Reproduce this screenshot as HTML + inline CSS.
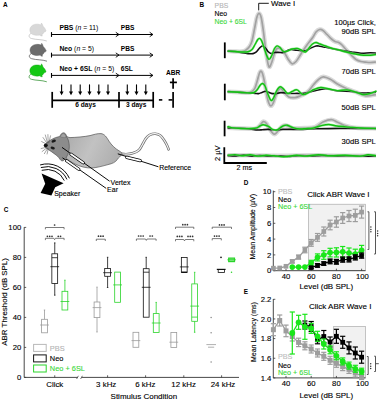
<!DOCTYPE html>
<html><head><meta charset="utf-8"><style>
html,body{margin:0;padding:0;background:#fff;}
svg{display:block;font-family:"Liberation Sans", sans-serif;}

</style></head><body>
<svg width="380" height="400" viewBox="0 0 380 400">
<rect width="380" height="400" fill="#fff"/>
<text x="2.9" y="7.1" font-size="6.4" text-anchor="start" fill="#000" stroke="#000" stroke-width="0.0" font-weight="bold">A</text>
<g transform="translate(29.0,23.6)"><path d="M2.4,9.6 C-0.4,10.8 -0.9,13.8 2.4,14.9 C7,16.2 13,15.7 17.8,17.4" stroke="#bdbdbd" stroke-width="0.75" fill="none"/><path d="M1,7.6 C0.2,4.2 2.8,0.9 7,0.6 C9.4,0.4 10.8,0.8 11.9,1.3 L12.5,-0.6 C13.3,0.4 13.8,1.5 14,2.6 C15.3,3.6 16.4,5.4 17.1,7.3 C16.7,7.9 15.9,8.3 15.1,8.4 C14.7,9.6 13.9,10.6 12.9,11 L13.3,12.4 L11.7,12.3 L11.3,11.3 C9.5,11.8 7.4,11.9 5.4,11.4 C3,10.9 1.5,9.8 1,7.6 Z" fill="#d8d8d8" stroke="#c2c2c2" stroke-width="0.4"/></g>
<g transform="translate(29.2,43.8)"><path d="M2.4,9.6 C-0.4,10.8 -0.9,13.8 2.4,14.9 C7,16.2 13,15.7 17.8,17.4" stroke="#555" stroke-width="0.75" fill="none"/><path d="M1,7.6 C0.2,4.2 2.8,0.9 7,0.6 C9.4,0.4 10.8,0.8 11.9,1.3 L12.5,-0.6 C13.3,0.4 13.8,1.5 14,2.6 C15.3,3.6 16.4,5.4 17.1,7.3 C16.7,7.9 15.9,8.3 15.1,8.4 C14.7,9.6 13.9,10.6 12.9,11 L13.3,12.4 L11.7,12.3 L11.3,11.3 C9.5,11.8 7.4,11.9 5.4,11.4 C3,10.9 1.5,9.8 1,7.6 Z" fill="#6c6c6c" stroke="#555" stroke-width="0.4"/></g>
<g transform="translate(29.0,64.4)"><path d="M2.4,9.6 C-0.4,10.8 -0.9,13.8 2.4,14.9 C7,16.2 13,15.7 17.8,17.4" stroke="#2f8f2f" stroke-width="0.75" fill="none"/><path d="M1,7.6 C0.2,4.2 2.8,0.9 7,0.6 C9.4,0.4 10.8,0.8 11.9,1.3 L12.5,-0.6 C13.3,0.4 13.8,1.5 14,2.6 C15.3,3.6 16.4,5.4 17.1,7.3 C16.7,7.9 15.9,8.3 15.1,8.4 C14.7,9.6 13.9,10.6 12.9,11 L13.3,12.4 L11.7,12.3 L11.3,11.3 C9.5,11.8 7.4,11.9 5.4,11.4 C3,10.9 1.5,9.8 1,7.6 Z" fill="#14c814" stroke="#0fa00f" stroke-width="0.4"/></g>
<line x1="51.5" y1="34.5" x2="152.8" y2="34.5" stroke="#000" stroke-width="1"/>
<line x1="51.5" y1="32.1" x2="51.5" y2="36.9" stroke="#000" stroke-width="1.1"/>
<path d="M115.8,32.3 L119,34.5 L115.8,36.7" stroke="#000" stroke-width="0.9" fill="none"/>
<path d="M149.70000000000002,32.3 L152.9,34.5 L149.70000000000002,36.7" stroke="#000" stroke-width="0.9" fill="none"/>
<text x="59.4" y="30.4" font-size="6.8" fill="#000"><tspan font-weight="bold">PBS</tspan> (<tspan font-style="italic">n</tspan> = 11)</text>
<text x="120.8" y="30.4" font-size="6.6" text-anchor="start" fill="#000" stroke="#000" stroke-width="0.0" font-weight="bold">PBS</text>
<line x1="51.5" y1="55.1" x2="152.8" y2="55.1" stroke="#000" stroke-width="1"/>
<line x1="51.5" y1="52.7" x2="51.5" y2="57.5" stroke="#000" stroke-width="1.1"/>
<path d="M115.8,52.9 L119,55.1 L115.8,57.300000000000004" stroke="#000" stroke-width="0.9" fill="none"/>
<path d="M149.70000000000002,52.9 L152.9,55.1 L149.70000000000002,57.300000000000004" stroke="#000" stroke-width="0.9" fill="none"/>
<text x="59.4" y="51.0" font-size="6.8" fill="#000"><tspan font-weight="bold">Neo</tspan> (<tspan font-style="italic">n</tspan> = 5)</text>
<text x="120.8" y="51.0" font-size="6.6" text-anchor="start" fill="#000" stroke="#000" stroke-width="0.0" font-weight="bold">PBS</text>
<line x1="51.5" y1="75.4" x2="152.8" y2="75.4" stroke="#000" stroke-width="1"/>
<line x1="51.5" y1="73.0" x2="51.5" y2="77.80000000000001" stroke="#000" stroke-width="1.1"/>
<path d="M115.8,73.2 L119,75.4 L115.8,77.60000000000001" stroke="#000" stroke-width="0.9" fill="none"/>
<path d="M149.70000000000002,73.2 L152.9,75.4 L149.70000000000002,77.60000000000001" stroke="#000" stroke-width="0.9" fill="none"/>
<text x="59.4" y="71.30000000000001" font-size="6.8" fill="#000"><tspan font-weight="bold">Neo + 6SL</tspan> (<tspan font-style="italic">n</tspan> = 5)</text>
<text x="120.8" y="71.30000000000001" font-size="6.6" text-anchor="start" fill="#000" stroke="#000" stroke-width="0.0" font-weight="bold">6SL</text>
<line x1="52.2" y1="100.3" x2="153.2" y2="100.3" stroke="#000" stroke-width="1.7"/>
<line x1="52.2" y1="91.9" x2="52.2" y2="107.8" stroke="#000" stroke-width="1.7"/>
<line x1="119" y1="91.9" x2="119" y2="107.8" stroke="#000" stroke-width="1.7"/>
<line x1="153.2" y1="91.9" x2="153.2" y2="107.8" stroke="#000" stroke-width="1.7"/>
<line x1="61.6" y1="84.4" x2="61.6" y2="92.5" stroke="#000" stroke-width="1.1"/>
<path d="M59.6,91.6 L63.6,91.6 L61.6,95.2 Z" stroke="none" stroke-width="1" fill="#000"/>
<line x1="71.0" y1="84.4" x2="71.0" y2="92.5" stroke="#000" stroke-width="1.1"/>
<path d="M69.0,91.6 L73.0,91.6 L71.0,95.2 Z" stroke="none" stroke-width="1" fill="#000"/>
<line x1="80.2" y1="84.4" x2="80.2" y2="92.5" stroke="#000" stroke-width="1.1"/>
<path d="M78.2,91.6 L82.2,91.6 L80.2,95.2 Z" stroke="none" stroke-width="1" fill="#000"/>
<line x1="89.5" y1="84.4" x2="89.5" y2="92.5" stroke="#000" stroke-width="1.1"/>
<path d="M87.5,91.6 L91.5,91.6 L89.5,95.2 Z" stroke="none" stroke-width="1" fill="#000"/>
<line x1="98.8" y1="84.4" x2="98.8" y2="92.5" stroke="#000" stroke-width="1.1"/>
<path d="M96.8,91.6 L100.8,91.6 L98.8,95.2 Z" stroke="none" stroke-width="1" fill="#000"/>
<line x1="108.0" y1="84.4" x2="108.0" y2="92.5" stroke="#000" stroke-width="1.1"/>
<path d="M106.0,91.6 L110.0,91.6 L108.0,95.2 Z" stroke="none" stroke-width="1" fill="#000"/>
<line x1="127.3" y1="84.4" x2="127.3" y2="92.5" stroke="#000" stroke-width="1.1"/>
<path d="M125.3,91.6 L129.3,91.6 L127.3,95.2 Z" stroke="none" stroke-width="1" fill="#000"/>
<line x1="136.5" y1="84.4" x2="136.5" y2="92.5" stroke="#000" stroke-width="1.1"/>
<path d="M134.5,91.6 L138.5,91.6 L136.5,95.2 Z" stroke="none" stroke-width="1" fill="#000"/>
<line x1="145.8" y1="84.4" x2="145.8" y2="92.5" stroke="#000" stroke-width="1.1"/>
<path d="M143.8,91.6 L147.8,91.6 L145.8,95.2 Z" stroke="none" stroke-width="1" fill="#000"/>
<text x="85.6" y="107.3" font-size="6.6" text-anchor="middle" fill="#000" stroke="#000" stroke-width="0.0" font-weight="bold">6 days</text>
<text x="136.2" y="107.3" font-size="6.6" text-anchor="middle" fill="#000" stroke="#000" stroke-width="0.0" font-weight="bold">3 days</text>
<line x1="158.9" y1="99.9" x2="162.3" y2="99.9" stroke="#000" stroke-width="1.6"/>
<line x1="168.6" y1="99.9" x2="172.5" y2="99.9" stroke="#000" stroke-width="1.6"/>
<line x1="173.1" y1="91.9" x2="173.1" y2="107.8" stroke="#000" stroke-width="1.7"/>
<line x1="173.1" y1="78.3" x2="173.1" y2="88.8" stroke="#000" stroke-width="1.7"/>
<line x1="169.9" y1="82.4" x2="176.9" y2="82.4" stroke="#000" stroke-width="1.7"/>
<text x="173.1" y="74.9" font-size="6.6" text-anchor="middle" fill="#000" stroke="#000" stroke-width="0.0" font-weight="bold">ABR</text>
<defs><linearGradient id="bodyg" x1="0" y1="0" x2="1" y2="0.3"><stop offset="0" stop-color="#a9a9a9"/><stop offset="0.55" stop-color="#c2c2c2"/><stop offset="1" stop-color="#b0b0b0"/></linearGradient></defs>
<path d="M120.50,153.60 C121.42,153.70 124.02,154.25 126.00,154.20 C127.98,154.15 130.28,153.95 132.40,153.30 C134.52,152.65 137.00,151.82 138.70,150.30 C140.40,148.78 141.42,146.15 142.60,144.20 C143.78,142.25 144.60,140.15 145.80,138.60 C147.00,137.05 148.22,135.72 149.80,134.90 C151.38,134.08 153.60,133.63 155.30,133.70 C157.00,133.77 158.55,134.25 160.00,135.30 C161.45,136.35 162.82,138.30 164.00,140.00 C165.18,141.70 166.33,143.95 167.10,145.50 C167.87,147.05 168.35,148.67 168.60,149.30" stroke="#6a6a6a" stroke-width="2.6" fill="none" stroke-linecap="round"/>
<path d="M120.50,153.60 C121.42,153.70 124.02,154.25 126.00,154.20 C127.98,154.15 130.28,153.95 132.40,153.30 C134.52,152.65 137.00,151.82 138.70,150.30 C140.40,148.78 141.42,146.15 142.60,144.20 C143.78,142.25 144.60,140.15 145.80,138.60 C147.00,137.05 148.22,135.72 149.80,134.90 C151.38,134.08 153.60,133.63 155.30,133.70 C157.00,133.77 158.55,134.25 160.00,135.30 C161.45,136.35 162.82,138.30 164.00,140.00 C165.18,141.70 166.33,143.95 167.10,145.50 C167.87,147.05 168.35,148.67 168.60,149.30" stroke="#f2f2f2" stroke-width="1.2" fill="none" stroke-linecap="round"/>
<path d="M63.4,133.2 C65.5,135.5 67,137.4 70,137.6 C76,137.4 84,136.8 90,135.6 C94,134.6 97,133.4 101,133.6 C104.5,134 106.5,137 109,141.2 C111.5,145 115,148.5 119,150.8 C121,152 122.5,153 121.8,154.8 C120.8,156.2 118.8,156.8 117.2,159.6 C115.5,162.2 112.5,163.6 108,164.6 C103,166 97,167.6 92,168 C86,168.2 80,166.5 75,164 C71,162 68,160 66,158 Z" stroke="#555" stroke-width="0.7" fill="url(#bodyg)"/>
<path d="M44.3,145.3 C46.5,142.6 50,140 54,138.2 C56.5,137.2 58.5,136.8 60,136.2 C60.6,134.4 61.8,133 63.5,132.8 C65.3,132.9 66.4,134.6 66.8,137.2 C68.2,139 69.2,142.5 69.3,146.5 C69.2,150.5 68.4,154 66.6,156.8 C65.6,158.5 64.5,159.6 63.6,160.6 C62.4,161.2 61,160.8 60.2,159.6 C59.4,158.2 58.2,156.8 56.6,155.4 C53.5,153 50,150.6 46.6,148.4 C45,147.4 43.9,146.4 44.3,145.3 Z" stroke="#4a4a4a" stroke-width="0.6" fill="#8c8c8c"/>
<path d="M60.4,136.8 C60.9,135 62,133.8 63.4,133.6 C64.9,133.8 65.8,135.3 66.0,137.4 C64.2,137.8 62.2,137.6 60.4,136.8 Z" stroke="#5a5a5a" stroke-width="0.35" fill="#a2a2a2"/>
<ellipse cx="53.7" cy="141.1" rx="2.3" ry="1.35" fill="#1a1a1a" transform="rotate(-22 53.7 141.1)"/>
<ellipse cx="52.7" cy="148.1" rx="2.2" ry="1.3" fill="#1a1a1a" transform="rotate(18 52.7 148.1)"/>
<circle cx="45.8" cy="145.3" r="1.9" fill="#111"/>
<line x1="47.6" y1="143.2" x2="45.2" y2="134.6" stroke="#4a4a4a" stroke-width="0.5"/>
<line x1="48.2" y1="143.0" x2="47.9" y2="134.2" stroke="#4a4a4a" stroke-width="0.5"/>
<line x1="48.8" y1="143.2" x2="50.6" y2="135.4" stroke="#4a4a4a" stroke-width="0.5"/>
<line x1="47.2" y1="143.6" x2="42.8" y2="137.2" stroke="#4a4a4a" stroke-width="0.5"/>
<line x1="46.8" y1="144.2" x2="41.3" y2="141.4" stroke="#4a4a4a" stroke-width="0.5"/>
<line x1="46.8" y1="147.2" x2="40.8" y2="148.6" stroke="#4a4a4a" stroke-width="0.5"/>
<line x1="47.2" y1="147.6" x2="41.8" y2="151.8" stroke="#4a4a4a" stroke-width="0.5"/>
<line x1="47.8" y1="148.0" x2="44.2" y2="154.0" stroke="#4a4a4a" stroke-width="0.5"/>
<line x1="48.4" y1="148.2" x2="47.0" y2="154.4" stroke="#4a4a4a" stroke-width="0.5"/>
<line x1="62.0" y1="147.4" x2="109.6" y2="181.2" stroke="#000" stroke-width="0.95"/>
<line x1="71.0" y1="154.2" x2="83.2" y2="162.8" stroke="#000" stroke-width="3.2" stroke-linecap="round"/>
<line x1="71.0" y1="154.2" x2="83.2" y2="162.8" stroke="#fff" stroke-width="1.7" stroke-linecap="round"/>
<line x1="62.5" y1="157.8" x2="106.2" y2="188.4" stroke="#000" stroke-width="0.95"/>
<line x1="66.6" y1="160.8" x2="78.8" y2="169.3" stroke="#000" stroke-width="3.2" stroke-linecap="round"/>
<line x1="66.6" y1="160.8" x2="78.8" y2="169.3" stroke="#fff" stroke-width="1.7" stroke-linecap="round"/>
<line x1="117.8" y1="153.8" x2="158.4" y2="166.8" stroke="#000" stroke-width="0.95"/>
<line x1="126.8" y1="157.4" x2="140.2" y2="160.6" stroke="#000" stroke-width="3.2" stroke-linecap="round"/>
<line x1="126.8" y1="157.4" x2="140.2" y2="160.6" stroke="#fff" stroke-width="1.7" stroke-linecap="round"/>
<text x="110.6" y="184.6" font-size="7" text-anchor="start" fill="#000" stroke="#000" stroke-width="0.12">Vertex</text>
<text x="107.1" y="192.4" font-size="7" text-anchor="start" fill="#000" stroke="#000" stroke-width="0.12">Ear</text>
<text x="159.3" y="169.7" font-size="6.9" text-anchor="start" fill="#000" stroke="#000" stroke-width="0.12">Reference</text>
<path d="M41.6,173.6 L63.6,183.2 L55.2,187.2 L51.4,195.6 L40.6,193.0 L45.2,183.8 Z" stroke="none" stroke-width="1" fill="#000"/>
<path d="M41.73,170.32 A18.7,18.7 0 0 1 64.28,180.59" stroke="#000" stroke-width="0.95" fill="none"/>
<path d="M40.88,167.54 A21.6,21.6 0 0 1 66.93,179.41" stroke="#000" stroke-width="0.95" fill="none"/>
<path d="M40.10,164.96 A24.3,24.3 0 0 1 69.40,178.32" stroke="#000" stroke-width="0.95" fill="none"/>
<text x="54.2" y="196.3" font-size="7" text-anchor="start" fill="#000" stroke="#000" stroke-width="0.12">Speaker</text>
<text x="199.6" y="6.8" font-size="6.4" text-anchor="start" fill="#000" stroke="#000" stroke-width="0.0" font-weight="bold">B</text>
<text x="214.6" y="8.3" font-size="6.8" text-anchor="start" fill="#b4b4b4" stroke="#b4b4b4" stroke-width="0.12">PBS</text>
<text x="214.6" y="16.0" font-size="6.8" text-anchor="start" fill="#000" stroke="#000" stroke-width="0.12">Neo</text>
<text x="214.6" y="23.8" font-size="6.8" text-anchor="start" fill="#3ad83a" stroke="#3ad83a" stroke-width="0.12">Neo + 6SL</text>
<path d="M258.7,10.4 L258.7,3.3 L268.8,3.3" stroke="#000" stroke-width="0.9" fill="none"/>
<text x="271.0" y="6.4" font-size="7.9" text-anchor="start" fill="#000" stroke="#000" stroke-width="0.12">Wave I</text>
<text x="375.8" y="24.7" font-size="7.6" text-anchor="end" fill="#000" stroke="#000" stroke-width="0.12">100µs Click,</text>
<text x="375.8" y="33.7" font-size="7.6" text-anchor="end" fill="#000" stroke="#000" stroke-width="0.12">90dB SPL</text>
<text x="375.8" y="73.7" font-size="7.6" text-anchor="end" fill="#000" stroke="#000" stroke-width="0.12">70dB SPL</text>
<text x="375.8" y="110.0" font-size="7.6" text-anchor="end" fill="#000" stroke="#000" stroke-width="0.12">50dB SPL</text>
<text x="375.8" y="144.3" font-size="7.6" text-anchor="end" fill="#000" stroke="#000" stroke-width="0.12">30dB SPL</text>
<path d="M227.60,51.10 C228.83,51.17 232.60,51.43 235.00,51.50 C237.40,51.57 240.17,51.75 242.00,51.50 C243.83,51.25 244.75,50.83 246.00,50.00 C247.25,49.17 248.50,48.00 249.50,46.50 C250.50,45.00 251.17,43.92 252.00,41.00 C252.83,38.08 253.70,32.92 254.50,29.00 C255.30,25.08 256.05,20.10 256.80,17.50 C257.55,14.90 258.27,13.40 259.00,13.40 C259.73,13.40 260.45,14.40 261.20,17.50 C261.95,20.60 262.70,26.25 263.50,32.00 C264.30,37.75 265.12,46.25 266.00,52.00 C266.88,57.75 267.88,64.67 268.80,66.50 C269.72,68.33 270.55,65.25 271.50,63.00 C272.45,60.75 273.58,55.42 274.50,53.00 C275.42,50.58 276.08,49.25 277.00,48.50 C277.92,47.75 278.83,47.92 280.00,48.50 C281.17,49.08 282.67,50.25 284.00,52.00 C285.33,53.75 286.67,57.03 288.00,59.00 C289.33,60.97 290.67,63.38 292.00,63.80 C293.33,64.22 294.67,62.88 296.00,61.50 C297.33,60.12 298.83,57.28 300.00,55.50 C301.17,53.72 301.83,52.55 303.00,50.80 C304.17,49.05 305.42,47.17 307.00,45.00 C308.58,42.83 311.00,39.97 312.50,37.80 C314.00,35.63 314.82,33.38 316.00,32.00 C317.18,30.62 318.43,29.75 319.60,29.50 C320.77,29.25 321.77,29.67 323.00,30.50 C324.23,31.33 325.58,33.08 327.00,34.50 C328.42,35.92 330.17,37.83 331.50,39.00 C332.83,40.17 333.82,40.92 335.00,41.50 C336.18,42.08 337.43,41.92 338.60,42.50 C339.77,43.08 340.77,43.83 342.00,45.00 C343.23,46.17 344.40,47.75 346.00,49.50 C347.60,51.25 349.93,53.83 351.60,55.50 C353.27,57.17 354.43,58.50 356.00,59.50 C357.57,60.50 359.33,61.05 361.00,61.50 C362.67,61.95 364.42,62.03 366.00,62.20 C367.58,62.37 368.83,62.53 370.50,62.50 C372.17,62.47 375.08,62.08 376.00,62.00" stroke="#dadada" stroke-width="4.4" fill="none" stroke-linejoin="round"/>
<path d="M227.60,51.10 C228.83,51.17 232.60,51.43 235.00,51.50 C237.40,51.57 240.17,51.75 242.00,51.50 C243.83,51.25 244.75,50.83 246.00,50.00 C247.25,49.17 248.50,48.00 249.50,46.50 C250.50,45.00 251.17,43.92 252.00,41.00 C252.83,38.08 253.70,32.92 254.50,29.00 C255.30,25.08 256.05,20.10 256.80,17.50 C257.55,14.90 258.27,13.40 259.00,13.40 C259.73,13.40 260.45,14.40 261.20,17.50 C261.95,20.60 262.70,26.25 263.50,32.00 C264.30,37.75 265.12,46.25 266.00,52.00 C266.88,57.75 267.88,64.67 268.80,66.50 C269.72,68.33 270.55,65.25 271.50,63.00 C272.45,60.75 273.58,55.42 274.50,53.00 C275.42,50.58 276.08,49.25 277.00,48.50 C277.92,47.75 278.83,47.92 280.00,48.50 C281.17,49.08 282.67,50.25 284.00,52.00 C285.33,53.75 286.67,57.03 288.00,59.00 C289.33,60.97 290.67,63.38 292.00,63.80 C293.33,64.22 294.67,62.88 296.00,61.50 C297.33,60.12 298.83,57.28 300.00,55.50 C301.17,53.72 301.83,52.55 303.00,50.80 C304.17,49.05 305.42,47.17 307.00,45.00 C308.58,42.83 311.00,39.97 312.50,37.80 C314.00,35.63 314.82,33.38 316.00,32.00 C317.18,30.62 318.43,29.75 319.60,29.50 C320.77,29.25 321.77,29.67 323.00,30.50 C324.23,31.33 325.58,33.08 327.00,34.50 C328.42,35.92 330.17,37.83 331.50,39.00 C332.83,40.17 333.82,40.92 335.00,41.50 C336.18,42.08 337.43,41.92 338.60,42.50 C339.77,43.08 340.77,43.83 342.00,45.00 C343.23,46.17 344.40,47.75 346.00,49.50 C347.60,51.25 349.93,53.83 351.60,55.50 C353.27,57.17 354.43,58.50 356.00,59.50 C357.57,60.50 359.33,61.05 361.00,61.50 C362.67,61.95 364.42,62.03 366.00,62.20 C367.58,62.37 368.83,62.53 370.50,62.50 C372.17,62.47 375.08,62.08 376.00,62.00" stroke="#a2a2a2" stroke-width="1.7" fill="none" stroke-linejoin="round"/>
<path d="M227.60,51.10 C228.83,51.17 232.60,51.22 235.00,51.50 C237.40,51.78 239.83,52.45 242.00,52.80 C244.17,53.15 246.17,53.47 248.00,53.60 C249.83,53.73 251.67,53.83 253.00,53.60 C254.33,53.37 255.00,53.00 256.00,52.20 C257.00,51.40 258.00,49.83 259.00,48.80 C260.00,47.77 261.00,46.22 262.00,46.00 C263.00,45.78 264.00,46.58 265.00,47.50 C266.00,48.42 267.00,50.50 268.00,51.50 C269.00,52.50 269.92,53.33 271.00,53.50 C272.08,53.67 273.22,52.68 274.50,52.50 C275.78,52.32 277.22,52.40 278.70,52.40 C280.18,52.40 281.52,52.97 283.40,52.50 C285.28,52.03 287.73,49.97 290.00,49.60 C292.27,49.23 294.43,50.10 297.00,50.30 C299.57,50.50 303.23,51.10 305.40,50.80 C307.57,50.50 308.23,49.30 310.00,48.50 C311.77,47.70 314.33,46.37 316.00,46.00 C317.67,45.63 318.42,46.08 320.00,46.30 C321.58,46.52 322.60,46.75 325.50,47.30 C328.40,47.85 333.05,48.82 337.40,49.60 C341.75,50.38 347.67,51.40 351.60,52.00 C355.53,52.60 357.85,53.08 361.00,53.20 C364.15,53.32 368.00,52.70 370.50,52.70 C373.00,52.70 375.08,53.12 376.00,53.20" stroke="#111" stroke-width="1.6" fill="none" stroke-linejoin="round"/>
<path d="M227.60,51.10 C228.83,51.17 232.60,51.35 235.00,51.50 C237.40,51.65 239.83,51.95 242.00,52.00 C244.17,52.05 246.33,52.22 248.00,51.80 C249.67,51.38 250.83,50.72 252.00,49.50 C253.17,48.28 254.08,46.08 255.00,44.50 C255.92,42.92 256.77,41.02 257.50,40.00 C258.23,38.98 258.73,38.32 259.40,38.40 C260.07,38.48 260.73,38.98 261.50,40.50 C262.27,42.02 263.17,45.08 264.00,47.50 C264.83,49.92 265.67,53.02 266.50,55.00 C267.33,56.98 268.17,59.23 269.00,59.40 C269.83,59.57 270.58,57.82 271.50,56.00 C272.42,54.18 273.58,50.18 274.50,48.50 C275.42,46.82 276.08,46.07 277.00,45.90 C277.92,45.73 278.93,46.57 280.00,47.50 C281.07,48.43 282.07,50.95 283.40,51.50 C284.73,52.05 286.57,51.22 288.00,50.80 C289.43,50.38 290.50,49.40 292.00,49.00 C293.50,48.60 295.50,48.23 297.00,48.40 C298.50,48.57 299.60,49.40 301.00,50.00 C302.40,50.60 304.07,52.33 305.40,52.00 C306.73,51.67 307.82,49.33 309.00,48.00 C310.18,46.67 311.33,44.92 312.50,44.00 C313.67,43.08 314.75,42.50 316.00,42.50 C317.25,42.50 318.42,43.42 320.00,44.00 C321.58,44.58 323.67,45.33 325.50,46.00 C327.33,46.67 329.02,47.40 331.00,48.00 C332.98,48.60 335.23,49.02 337.40,49.60 C339.57,50.18 341.63,50.90 344.00,51.50 C346.37,52.10 348.77,52.62 351.60,53.20 C354.43,53.78 357.85,54.67 361.00,55.00 C364.15,55.33 368.00,55.28 370.50,55.20 C373.00,55.12 375.08,54.62 376.00,54.50" stroke="#86e486" stroke-width="2.4" fill="none" stroke-linejoin="round" stroke-opacity="0.7"/>
<path d="M227.60,51.10 C228.83,51.17 232.60,51.35 235.00,51.50 C237.40,51.65 239.83,51.95 242.00,52.00 C244.17,52.05 246.33,52.22 248.00,51.80 C249.67,51.38 250.83,50.72 252.00,49.50 C253.17,48.28 254.08,46.08 255.00,44.50 C255.92,42.92 256.77,41.02 257.50,40.00 C258.23,38.98 258.73,38.32 259.40,38.40 C260.07,38.48 260.73,38.98 261.50,40.50 C262.27,42.02 263.17,45.08 264.00,47.50 C264.83,49.92 265.67,53.02 266.50,55.00 C267.33,56.98 268.17,59.23 269.00,59.40 C269.83,59.57 270.58,57.82 271.50,56.00 C272.42,54.18 273.58,50.18 274.50,48.50 C275.42,46.82 276.08,46.07 277.00,45.90 C277.92,45.73 278.93,46.57 280.00,47.50 C281.07,48.43 282.07,50.95 283.40,51.50 C284.73,52.05 286.57,51.22 288.00,50.80 C289.43,50.38 290.50,49.40 292.00,49.00 C293.50,48.60 295.50,48.23 297.00,48.40 C298.50,48.57 299.60,49.40 301.00,50.00 C302.40,50.60 304.07,52.33 305.40,52.00 C306.73,51.67 307.82,49.33 309.00,48.00 C310.18,46.67 311.33,44.92 312.50,44.00 C313.67,43.08 314.75,42.50 316.00,42.50 C317.25,42.50 318.42,43.42 320.00,44.00 C321.58,44.58 323.67,45.33 325.50,46.00 C327.33,46.67 329.02,47.40 331.00,48.00 C332.98,48.60 335.23,49.02 337.40,49.60 C339.57,50.18 341.63,50.90 344.00,51.50 C346.37,52.10 348.77,52.62 351.60,53.20 C354.43,53.78 357.85,54.67 361.00,55.00 C364.15,55.33 368.00,55.28 370.50,55.20 C373.00,55.12 375.08,54.62 376.00,54.50" stroke="#12bf12" stroke-width="1.4" fill="none" stroke-linejoin="round"/>
<path d="M227.60,91.60 C229.67,91.72 236.60,92.10 240.00,92.30 C243.40,92.50 246.00,92.93 248.00,92.80 C250.00,92.67 250.83,92.30 252.00,91.50 C253.17,90.70 254.08,89.92 255.00,88.00 C255.92,86.08 256.75,82.50 257.50,80.00 C258.25,77.50 258.93,74.47 259.50,73.00 C260.07,71.53 260.40,71.12 260.90,71.20 C261.40,71.28 261.90,71.70 262.50,73.50 C263.10,75.30 263.78,78.42 264.50,82.00 C265.22,85.58 266.08,91.50 266.80,95.00 C267.52,98.50 268.12,101.18 268.80,103.00 C269.48,104.82 270.20,105.82 270.90,105.90 C271.60,105.98 272.15,105.32 273.00,103.50 C273.85,101.68 275.00,97.33 276.00,95.00 C277.00,92.67 278.17,90.60 279.00,89.50 C279.83,88.40 280.17,87.98 281.00,88.40 C281.83,88.82 282.70,90.58 284.00,92.00 C285.30,93.42 286.97,95.97 288.80,96.90 C290.63,97.83 293.13,97.75 295.00,97.60 C296.87,97.45 298.33,96.68 300.00,96.00 C301.67,95.32 303.50,94.42 305.00,93.50 C306.50,92.58 307.55,92.00 309.00,90.50 C310.45,89.00 312.20,86.25 313.70,84.50 C315.20,82.75 316.42,81.28 318.00,80.00 C319.58,78.72 321.15,76.93 323.20,76.80 C325.25,76.67 327.93,78.00 330.30,79.20 C332.67,80.40 334.63,82.42 337.40,84.00 C340.17,85.58 343.73,87.32 346.90,88.70 C350.07,90.08 353.25,91.12 356.40,92.30 C359.55,93.48 362.53,95.42 365.80,95.80 C369.07,96.18 374.30,94.80 376.00,94.60" stroke="#dadada" stroke-width="4.4" fill="none" stroke-linejoin="round"/>
<path d="M227.60,91.60 C229.67,91.72 236.60,92.10 240.00,92.30 C243.40,92.50 246.00,92.93 248.00,92.80 C250.00,92.67 250.83,92.30 252.00,91.50 C253.17,90.70 254.08,89.92 255.00,88.00 C255.92,86.08 256.75,82.50 257.50,80.00 C258.25,77.50 258.93,74.47 259.50,73.00 C260.07,71.53 260.40,71.12 260.90,71.20 C261.40,71.28 261.90,71.70 262.50,73.50 C263.10,75.30 263.78,78.42 264.50,82.00 C265.22,85.58 266.08,91.50 266.80,95.00 C267.52,98.50 268.12,101.18 268.80,103.00 C269.48,104.82 270.20,105.82 270.90,105.90 C271.60,105.98 272.15,105.32 273.00,103.50 C273.85,101.68 275.00,97.33 276.00,95.00 C277.00,92.67 278.17,90.60 279.00,89.50 C279.83,88.40 280.17,87.98 281.00,88.40 C281.83,88.82 282.70,90.58 284.00,92.00 C285.30,93.42 286.97,95.97 288.80,96.90 C290.63,97.83 293.13,97.75 295.00,97.60 C296.87,97.45 298.33,96.68 300.00,96.00 C301.67,95.32 303.50,94.42 305.00,93.50 C306.50,92.58 307.55,92.00 309.00,90.50 C310.45,89.00 312.20,86.25 313.70,84.50 C315.20,82.75 316.42,81.28 318.00,80.00 C319.58,78.72 321.15,76.93 323.20,76.80 C325.25,76.67 327.93,78.00 330.30,79.20 C332.67,80.40 334.63,82.42 337.40,84.00 C340.17,85.58 343.73,87.32 346.90,88.70 C350.07,90.08 353.25,91.12 356.40,92.30 C359.55,93.48 362.53,95.42 365.80,95.80 C369.07,96.18 374.30,94.80 376.00,94.60" stroke="#a2a2a2" stroke-width="1.7" fill="none" stroke-linejoin="round"/>
<path d="M227.60,91.60 C229.67,91.73 236.27,92.17 240.00,92.40 C243.73,92.63 247.50,92.83 250.00,93.00 C252.50,93.17 253.57,93.30 255.00,93.40 C256.43,93.50 257.43,93.77 258.60,93.60 C259.77,93.43 260.88,92.78 262.00,92.40 C263.12,92.02 264.30,91.37 265.30,91.30 C266.30,91.23 267.00,91.65 268.00,92.00 C269.00,92.35 269.97,93.13 271.30,93.40 C272.63,93.67 274.42,93.73 276.00,93.60 C277.58,93.47 278.47,92.63 280.80,92.60 C283.13,92.57 287.30,93.27 290.00,93.40 C292.70,93.53 294.63,93.40 297.00,93.40 C299.37,93.40 301.42,93.80 304.20,93.40 C306.98,93.00 310.15,91.78 313.70,91.00 C317.25,90.22 321.55,88.70 325.50,88.70 C329.45,88.70 333.05,90.53 337.40,91.00 C341.75,91.47 347.67,91.17 351.60,91.50 C355.53,91.83 356.93,92.87 361.00,93.00 C365.07,93.13 373.50,92.42 376.00,92.30" stroke="#111" stroke-width="1.6" fill="none" stroke-linejoin="round"/>
<path d="M227.60,91.60 C229.67,91.72 236.27,92.07 240.00,92.30 C243.73,92.53 247.67,92.97 250.00,93.00 C252.33,93.03 252.83,93.00 254.00,92.50 C255.17,92.00 256.00,91.17 257.00,90.00 C258.00,88.83 259.10,86.58 260.00,85.50 C260.90,84.42 261.57,83.42 262.40,83.50 C263.23,83.58 264.15,84.42 265.00,86.00 C265.85,87.58 266.52,90.62 267.50,93.00 C268.48,95.38 269.90,99.47 270.90,100.30 C271.90,101.13 272.57,99.55 273.50,98.00 C274.43,96.45 275.58,92.75 276.50,91.00 C277.42,89.25 278.25,88.20 279.00,87.50 C279.75,86.80 280.17,86.47 281.00,86.80 C281.83,87.13 282.88,88.37 284.00,89.50 C285.12,90.63 286.37,93.27 287.70,93.60 C289.03,93.93 290.43,92.12 292.00,91.50 C293.57,90.88 295.27,89.38 297.10,89.90 C298.93,90.42 301.02,94.20 303.00,94.60 C304.98,95.00 307.17,93.15 309.00,92.30 C310.83,91.45 312.03,90.30 314.00,89.50 C315.97,88.70 318.48,87.63 320.80,87.50 C323.12,87.37 325.13,88.18 327.90,88.70 C330.67,89.22 334.23,90.40 337.40,90.60 C340.57,90.80 343.73,89.62 346.90,89.90 C350.07,90.18 353.63,91.52 356.40,92.30 C359.17,93.08 361.13,94.42 363.50,94.60 C365.87,94.78 368.43,94.00 370.60,93.40 C372.77,92.80 375.52,91.40 376.50,91.00" stroke="#86e486" stroke-width="2.4" fill="none" stroke-linejoin="round" stroke-opacity="0.7"/>
<path d="M227.60,91.60 C229.67,91.72 236.27,92.07 240.00,92.30 C243.73,92.53 247.67,92.97 250.00,93.00 C252.33,93.03 252.83,93.00 254.00,92.50 C255.17,92.00 256.00,91.17 257.00,90.00 C258.00,88.83 259.10,86.58 260.00,85.50 C260.90,84.42 261.57,83.42 262.40,83.50 C263.23,83.58 264.15,84.42 265.00,86.00 C265.85,87.58 266.52,90.62 267.50,93.00 C268.48,95.38 269.90,99.47 270.90,100.30 C271.90,101.13 272.57,99.55 273.50,98.00 C274.43,96.45 275.58,92.75 276.50,91.00 C277.42,89.25 278.25,88.20 279.00,87.50 C279.75,86.80 280.17,86.47 281.00,86.80 C281.83,87.13 282.88,88.37 284.00,89.50 C285.12,90.63 286.37,93.27 287.70,93.60 C289.03,93.93 290.43,92.12 292.00,91.50 C293.57,90.88 295.27,89.38 297.10,89.90 C298.93,90.42 301.02,94.20 303.00,94.60 C304.98,95.00 307.17,93.15 309.00,92.30 C310.83,91.45 312.03,90.30 314.00,89.50 C315.97,88.70 318.48,87.63 320.80,87.50 C323.12,87.37 325.13,88.18 327.90,88.70 C330.67,89.22 334.23,90.40 337.40,90.60 C340.57,90.80 343.73,89.62 346.90,89.90 C350.07,90.18 353.63,91.52 356.40,92.30 C359.17,93.08 361.13,94.42 363.50,94.60 C365.87,94.78 368.43,94.00 370.60,93.40 C372.77,92.80 375.52,91.40 376.50,91.00" stroke="#12bf12" stroke-width="1.4" fill="none" stroke-linejoin="round"/>
<path d="M227.60,127.80 C230.50,127.92 240.43,128.33 245.00,128.50 C249.57,128.67 252.67,129.13 255.00,128.80 C257.33,128.47 257.63,127.70 259.00,126.50 C260.37,125.30 261.95,122.10 263.20,121.60 C264.45,121.10 265.37,122.18 266.50,123.50 C267.63,124.82 268.70,127.72 270.00,129.50 C271.30,131.28 272.97,133.95 274.30,134.20 C275.63,134.45 276.72,132.28 278.00,131.00 C279.28,129.72 280.78,127.47 282.00,126.50 C283.22,125.53 284.13,125.20 285.30,125.20 C286.47,125.20 287.65,126.00 289.00,126.50 C290.35,127.00 290.73,127.95 293.40,128.20 C296.07,128.45 301.40,128.18 305.00,128.00 C308.60,127.82 312.00,128.10 315.00,127.10 C318.00,126.10 320.28,123.25 323.00,122.00 C325.72,120.75 328.97,119.60 331.30,119.60 C333.63,119.60 334.87,121.03 337.00,122.00 C339.13,122.97 341.93,124.57 344.10,125.40 C346.27,126.23 347.72,126.57 350.00,127.00 C352.28,127.43 353.47,127.75 357.80,128.00 C362.13,128.25 372.97,128.42 376.00,128.50" stroke="#dadada" stroke-width="4.4" fill="none" stroke-linejoin="round"/>
<path d="M227.60,127.80 C230.50,127.92 240.43,128.33 245.00,128.50 C249.57,128.67 252.67,129.13 255.00,128.80 C257.33,128.47 257.63,127.70 259.00,126.50 C260.37,125.30 261.95,122.10 263.20,121.60 C264.45,121.10 265.37,122.18 266.50,123.50 C267.63,124.82 268.70,127.72 270.00,129.50 C271.30,131.28 272.97,133.95 274.30,134.20 C275.63,134.45 276.72,132.28 278.00,131.00 C279.28,129.72 280.78,127.47 282.00,126.50 C283.22,125.53 284.13,125.20 285.30,125.20 C286.47,125.20 287.65,126.00 289.00,126.50 C290.35,127.00 290.73,127.95 293.40,128.20 C296.07,128.45 301.40,128.18 305.00,128.00 C308.60,127.82 312.00,128.10 315.00,127.10 C318.00,126.10 320.28,123.25 323.00,122.00 C325.72,120.75 328.97,119.60 331.30,119.60 C333.63,119.60 334.87,121.03 337.00,122.00 C339.13,122.97 341.93,124.57 344.10,125.40 C346.27,126.23 347.72,126.57 350.00,127.00 C352.28,127.43 353.47,127.75 357.80,128.00 C362.13,128.25 372.97,128.42 376.00,128.50" stroke="#a2a2a2" stroke-width="1.7" fill="none" stroke-linejoin="round"/>
<path d="M227.60,128.00 C230.50,128.08 239.95,128.17 245.00,128.50 C250.05,128.83 255.00,129.80 257.90,130.00 C260.80,130.20 260.65,129.80 262.40,129.70 C264.15,129.60 266.00,129.35 268.40,129.40 C270.80,129.45 274.33,130.00 276.80,130.00 C279.27,130.00 279.33,129.50 283.20,129.40 C287.07,129.30 294.70,129.50 300.00,129.40 C305.30,129.30 308.33,128.97 315.00,128.80 C321.67,128.63 329.83,128.45 340.00,128.40 C350.17,128.35 370.00,128.48 376.00,128.50" stroke="#111" stroke-width="1.6" fill="none" stroke-linejoin="round"/>
<path d="M227.60,127.60 C227.73,127.47 227.57,126.75 228.40,126.80 C229.23,126.85 230.50,127.62 232.60,127.90 C234.70,128.18 237.83,128.40 241.00,128.50 C244.17,128.60 248.97,128.60 251.60,128.50 C254.23,128.40 255.40,128.32 256.80,127.90 C258.20,127.48 258.93,126.53 260.00,126.00 C261.07,125.47 261.80,124.63 263.20,124.70 C264.60,124.77 266.83,125.62 268.40,126.40 C269.97,127.18 271.20,128.80 272.60,129.40 C274.00,130.00 275.57,130.23 276.80,130.00 C278.03,129.77 278.93,128.70 280.00,128.00 C281.07,127.30 281.97,126.27 283.20,125.80 C284.43,125.33 285.65,124.85 287.40,125.20 C289.15,125.55 291.60,127.27 293.70,127.90 C295.80,128.53 297.95,128.88 300.00,129.00 C302.05,129.12 303.93,128.73 306.00,128.60 C308.07,128.47 310.07,128.63 312.40,128.20 C314.73,127.77 317.28,126.62 320.00,126.00 C322.72,125.38 325.87,124.50 328.70,124.50 C331.53,124.50 333.58,125.57 337.00,126.00 C340.42,126.43 345.37,126.77 349.20,127.10 C353.03,127.43 355.53,127.77 360.00,128.00 C364.47,128.23 373.33,128.42 376.00,128.50" stroke="#86e486" stroke-width="2.4" fill="none" stroke-linejoin="round" stroke-opacity="0.7"/>
<path d="M227.60,127.60 C227.73,127.47 227.57,126.75 228.40,126.80 C229.23,126.85 230.50,127.62 232.60,127.90 C234.70,128.18 237.83,128.40 241.00,128.50 C244.17,128.60 248.97,128.60 251.60,128.50 C254.23,128.40 255.40,128.32 256.80,127.90 C258.20,127.48 258.93,126.53 260.00,126.00 C261.07,125.47 261.80,124.63 263.20,124.70 C264.60,124.77 266.83,125.62 268.40,126.40 C269.97,127.18 271.20,128.80 272.60,129.40 C274.00,130.00 275.57,130.23 276.80,130.00 C278.03,129.77 278.93,128.70 280.00,128.00 C281.07,127.30 281.97,126.27 283.20,125.80 C284.43,125.33 285.65,124.85 287.40,125.20 C289.15,125.55 291.60,127.27 293.70,127.90 C295.80,128.53 297.95,128.88 300.00,129.00 C302.05,129.12 303.93,128.73 306.00,128.60 C308.07,128.47 310.07,128.63 312.40,128.20 C314.73,127.77 317.28,126.62 320.00,126.00 C322.72,125.38 325.87,124.50 328.70,124.50 C331.53,124.50 333.58,125.57 337.00,126.00 C340.42,126.43 345.37,126.77 349.20,127.10 C353.03,127.43 355.53,127.77 360.00,128.00 C364.47,128.23 373.33,128.42 376.00,128.50" stroke="#12bf12" stroke-width="1.4" fill="none" stroke-linejoin="round"/>
<path d="M227.60,155.30 C231.33,155.30 241.27,155.22 250.00,155.30 C258.73,155.38 270.00,155.80 280.00,155.80 C290.00,155.80 300.00,155.33 310.00,155.30 C320.00,155.27 329.00,155.55 340.00,155.60 C351.00,155.65 370.00,155.60 376.00,155.60" stroke="#dadada" stroke-width="4.4" fill="none" stroke-linejoin="round"/>
<path d="M227.60,155.30 C231.33,155.30 241.27,155.22 250.00,155.30 C258.73,155.38 270.00,155.80 280.00,155.80 C290.00,155.80 300.00,155.33 310.00,155.30 C320.00,155.27 329.00,155.55 340.00,155.60 C351.00,155.65 370.00,155.60 376.00,155.60" stroke="#a2a2a2" stroke-width="1.7" fill="none" stroke-linejoin="round"/>
<path d="M227.60,155.60 C229.00,155.65 233.27,155.98 236.00,155.90 C238.73,155.82 241.33,155.07 244.00,155.10 C246.67,155.13 249.33,156.03 252.00,156.10 C254.67,156.17 257.00,155.48 260.00,155.50 C263.00,155.52 266.67,156.13 270.00,156.20 C273.33,156.27 276.67,155.85 280.00,155.90 C283.33,155.95 286.67,156.57 290.00,156.50 C293.33,156.43 296.33,155.57 300.00,155.50 C303.67,155.43 308.33,156.12 312.00,156.10 C315.67,156.08 318.33,155.38 322.00,155.40 C325.67,155.42 330.00,156.13 334.00,156.20 C338.00,156.27 342.33,155.80 346.00,155.80 C349.67,155.80 352.67,156.12 356.00,156.20 C359.33,156.28 362.67,156.28 366.00,156.30 C369.33,156.32 374.33,156.30 376.00,156.30" stroke="#111" stroke-width="1.6" fill="none" stroke-linejoin="round"/>
<path d="M227.60,155.30 C228.83,155.18 232.60,154.52 235.00,154.60 C237.40,154.68 239.50,155.77 242.00,155.80 C244.50,155.83 247.33,154.75 250.00,154.80 C252.67,154.85 255.33,156.02 258.00,156.10 C260.67,156.18 263.33,155.35 266.00,155.30 C268.67,155.25 271.00,155.57 274.00,155.80 C277.00,156.03 280.23,156.78 284.00,156.70 C287.77,156.62 293.10,155.40 296.60,155.30 C300.10,155.20 301.32,156.20 305.00,156.10 C308.68,156.00 314.53,154.75 318.70,154.70 C322.87,154.65 325.62,155.70 330.00,155.80 C334.38,155.90 340.00,155.25 345.00,155.30 C350.00,155.35 356.17,156.18 360.00,156.10 C363.83,156.02 365.33,154.85 368.00,154.80 C370.67,154.75 374.67,155.63 376.00,155.80" stroke="#86e486" stroke-width="2.4" fill="none" stroke-linejoin="round" stroke-opacity="0.7"/>
<path d="M227.60,155.30 C228.83,155.18 232.60,154.52 235.00,154.60 C237.40,154.68 239.50,155.77 242.00,155.80 C244.50,155.83 247.33,154.75 250.00,154.80 C252.67,154.85 255.33,156.02 258.00,156.10 C260.67,156.18 263.33,155.35 266.00,155.30 C268.67,155.25 271.00,155.57 274.00,155.80 C277.00,156.03 280.23,156.78 284.00,156.70 C287.77,156.62 293.10,155.40 296.60,155.30 C300.10,155.20 301.32,156.20 305.00,156.10 C308.68,156.00 314.53,154.75 318.70,154.70 C322.87,154.65 325.62,155.70 330.00,155.80 C334.38,155.90 340.00,155.25 345.00,155.30 C350.00,155.35 356.17,156.18 360.00,156.10 C363.83,156.02 365.33,154.85 368.00,154.80 C370.67,154.75 374.67,155.63 376.00,155.80" stroke="#12bf12" stroke-width="1.4" fill="none" stroke-linejoin="round"/>
<line x1="224.8" y1="42.4" x2="224.8" y2="58.2" stroke="#000" stroke-width="1.8"/>
<line x1="224.8" y1="83.7" x2="224.8" y2="100.3" stroke="#000" stroke-width="1.8"/>
<line x1="224.6" y1="120.7" x2="224.6" y2="136.3" stroke="#000" stroke-width="1.8"/>
<path d="M224.3,147.2 L224.3,163 L266.8,163" stroke="#000" stroke-width="1.8" fill="none"/>
<text x="219.8" y="153.2" font-size="7.4" text-anchor="middle" fill="#000" stroke="#000" stroke-width="0.12" transform="rotate(-90 219.8 153.2)">2 µV</text>
<text x="244.2" y="170.4" font-size="7.2" text-anchor="middle" fill="#000" stroke="#000" stroke-width="0.12">2 ms</text>
<text x="3.8" y="211.6" font-size="6.4" text-anchor="start" fill="#000" stroke="#000" stroke-width="0.0" font-weight="bold">C</text>
<line x1="24.2" y1="227.2" x2="24.2" y2="377.4" stroke="#333" stroke-width="0.9"/>
<line x1="24.2" y1="377.4" x2="26.2" y2="377.4" stroke="#333" stroke-width="0.8"/>
<text x="21.2" y="380.09999999999997" font-size="7.7" text-anchor="end" fill="#000" stroke="#000" stroke-width="0.12">0</text>
<line x1="24.2" y1="347.4" x2="26.2" y2="347.4" stroke="#333" stroke-width="0.8"/>
<text x="21.2" y="350.09999999999997" font-size="7.7" text-anchor="end" fill="#000" stroke="#000" stroke-width="0.12">20</text>
<line x1="24.2" y1="317.4" x2="26.2" y2="317.4" stroke="#333" stroke-width="0.8"/>
<text x="21.2" y="320.09999999999997" font-size="7.7" text-anchor="end" fill="#000" stroke="#000" stroke-width="0.12">40</text>
<line x1="24.2" y1="287.4" x2="26.2" y2="287.4" stroke="#333" stroke-width="0.8"/>
<text x="21.2" y="290.09999999999997" font-size="7.7" text-anchor="end" fill="#000" stroke="#000" stroke-width="0.12">60</text>
<line x1="24.2" y1="257.4" x2="26.2" y2="257.4" stroke="#333" stroke-width="0.8"/>
<text x="21.2" y="260.09999999999997" font-size="7.7" text-anchor="end" fill="#000" stroke="#000" stroke-width="0.12">80</text>
<line x1="24.2" y1="227.39999999999998" x2="26.2" y2="227.39999999999998" stroke="#333" stroke-width="0.8"/>
<text x="21.2" y="230.09999999999997" font-size="7.7" text-anchor="end" fill="#000" stroke="#000" stroke-width="0.12">100</text>
<line x1="24.2" y1="377.4" x2="77.6" y2="377.4" stroke="#333" stroke-width="0.9"/>
<line x1="81.6" y1="377.4" x2="239" y2="377.4" stroke="#333" stroke-width="0.9"/>
<path d="M76.6,379 L78.4,375.8 M80.6,379 L82.4,375.8" stroke="#333" stroke-width="0.7" fill="none"/>
<line x1="54.75" y1="377.4" x2="54.75" y2="375.3" stroke="#333" stroke-width="0.8"/>
<line x1="107.6" y1="377.4" x2="107.6" y2="375.3" stroke="#333" stroke-width="0.8"/>
<line x1="145.6" y1="377.4" x2="145.6" y2="375.3" stroke="#333" stroke-width="0.8"/>
<line x1="183.8" y1="377.4" x2="183.8" y2="375.3" stroke="#333" stroke-width="0.8"/>
<line x1="221.6" y1="377.4" x2="221.6" y2="375.3" stroke="#333" stroke-width="0.8"/>
<text x="54.75" y="387.2" font-size="7.9" text-anchor="middle" fill="#000" stroke="#000" stroke-width="0.12">Click</text>
<text x="106.2" y="387.2" font-size="7.9" text-anchor="middle" fill="#000" stroke="#000" stroke-width="0.12">3 kHz</text>
<text x="145.3" y="387.2" font-size="7.9" text-anchor="middle" fill="#000" stroke="#000" stroke-width="0.12">6 kHz</text>
<text x="183.6" y="387.2" font-size="7.9" text-anchor="middle" fill="#000" stroke="#000" stroke-width="0.12">12 kHz</text>
<text x="223.0" y="387.2" font-size="7.9" text-anchor="middle" fill="#000" stroke="#000" stroke-width="0.12">24 kHz</text>
<text x="143.9" y="399.2" font-size="8.0" text-anchor="middle" fill="#000" stroke="#000" stroke-width="0.12">Stimulus Condition</text>
<text x="7.1" y="301.9" font-size="7.9" text-anchor="middle" fill="#000" stroke="#000" stroke-width="0.12" transform="rotate(-90 7.1 301.9)">ABR Threshold (dB SPL)</text>
<line x1="44.5" y1="310.0" x2="44.5" y2="319.3" stroke="#9a9a9a" stroke-width="0.8"/>
<rect x="41.6" y="319.3" width="5.8" height="13.5" fill="none" stroke="#9a9a9a" stroke-width="0.8"/>
<line x1="40.1" y1="325.0" x2="48.9" y2="325.0" stroke="#9a9a9a" stroke-width="0.8"/>
<line x1="43.8" y1="310.0" x2="45.2" y2="310.0" stroke="#9a9a9a" stroke-width="0.8"/>
<line x1="54.75" y1="242.9" x2="54.75" y2="253.8" stroke="#111" stroke-width="0.8"/>
<line x1="54.75" y1="283.5" x2="54.75" y2="295.2" stroke="#111" stroke-width="0.8"/>
<rect x="51.85" y="253.8" width="5.8" height="29.69999999999999" fill="none" stroke="#111" stroke-width="0.8"/>
<line x1="50.35" y1="266.7" x2="59.15" y2="266.7" stroke="#111" stroke-width="0.8"/>
<line x1="51.85" y1="257.7" x2="57.65" y2="257.7" stroke="#111" stroke-width="0.8"/>
<line x1="54.05" y1="242.9" x2="55.45" y2="242.9" stroke="#111" stroke-width="0.8"/>
<line x1="54.05" y1="295.2" x2="55.45" y2="295.2" stroke="#111" stroke-width="0.8"/>
<line x1="64.9" y1="280.2" x2="64.9" y2="291.3" stroke="#2ad42a" stroke-width="0.8"/>
<rect x="62.00000000000001" y="291.3" width="5.8" height="18.69999999999999" fill="none" stroke="#2ad42a" stroke-width="0.8"/>
<line x1="60.50000000000001" y1="301.5" x2="69.30000000000001" y2="301.5" stroke="#2ad42a" stroke-width="0.8"/>
<line x1="64.2" y1="280.2" x2="65.60000000000001" y2="280.2" stroke="#2ad42a" stroke-width="0.8"/>
<line x1="97.0" y1="287.1" x2="97.0" y2="302.0" stroke="#9a9a9a" stroke-width="0.8"/>
<line x1="97.0" y1="317.6" x2="97.0" y2="332.0" stroke="#9a9a9a" stroke-width="0.8"/>
<rect x="94.1" y="302.0" width="5.8" height="15.600000000000023" fill="none" stroke="#9a9a9a" stroke-width="0.8"/>
<line x1="92.6" y1="307.6" x2="101.4" y2="307.6" stroke="#9a9a9a" stroke-width="0.8"/>
<line x1="96.3" y1="287.1" x2="97.7" y2="287.1" stroke="#9a9a9a" stroke-width="0.8"/>
<line x1="96.3" y1="332.0" x2="97.7" y2="332.0" stroke="#9a9a9a" stroke-width="0.8"/>
<line x1="107.6" y1="257.3" x2="107.6" y2="268.5" stroke="#111" stroke-width="0.8"/>
<line x1="107.6" y1="276.3" x2="107.6" y2="287.5" stroke="#111" stroke-width="0.8"/>
<rect x="104.69999999999999" y="268.5" width="5.8" height="7.800000000000011" fill="none" stroke="#111" stroke-width="0.8"/>
<line x1="103.19999999999999" y1="272.7" x2="112.0" y2="272.7" stroke="#111" stroke-width="0.8"/>
<line x1="106.89999999999999" y1="257.3" x2="108.3" y2="257.3" stroke="#111" stroke-width="0.8"/>
<line x1="106.89999999999999" y1="287.5" x2="108.3" y2="287.5" stroke="#111" stroke-width="0.8"/>
<rect x="114.69999999999999" y="272.1" width="5.8" height="30.19999999999999" fill="none" stroke="#2ad42a" stroke-width="0.8"/>
<line x1="113.19999999999999" y1="284.9" x2="122.0" y2="284.9" stroke="#2ad42a" stroke-width="0.8"/>
<rect x="133.0" y="332.3" width="5.8" height="15.0" fill="none" stroke="#9a9a9a" stroke-width="0.8"/>
<line x1="131.5" y1="340.6" x2="140.3" y2="340.6" stroke="#9a9a9a" stroke-width="0.8"/>
<line x1="146.2" y1="257.3" x2="146.2" y2="268.7" stroke="#111" stroke-width="0.8"/>
<rect x="143.29999999999998" y="268.7" width="5.8" height="48.5" fill="none" stroke="#111" stroke-width="0.8"/>
<line x1="141.79999999999998" y1="287.3" x2="150.6" y2="287.3" stroke="#111" stroke-width="0.8"/>
<line x1="143.29999999999998" y1="272.2" x2="149.1" y2="272.2" stroke="#111" stroke-width="0.8"/>
<line x1="145.5" y1="257.3" x2="146.89999999999998" y2="257.3" stroke="#111" stroke-width="0.8"/>
<line x1="156.2" y1="302.4" x2="156.2" y2="313.6" stroke="#2ad42a" stroke-width="0.8"/>
<rect x="153.29999999999998" y="313.6" width="5.8" height="18.799999999999955" fill="none" stroke="#2ad42a" stroke-width="0.8"/>
<line x1="151.79999999999998" y1="323.0" x2="160.6" y2="323.0" stroke="#2ad42a" stroke-width="0.8"/>
<line x1="155.5" y1="302.4" x2="156.89999999999998" y2="302.4" stroke="#2ad42a" stroke-width="0.8"/>
<rect x="170.9" y="332.4" width="5.8" height="15.0" fill="none" stroke="#9a9a9a" stroke-width="0.8"/>
<line x1="169.4" y1="342.2" x2="178.20000000000002" y2="342.2" stroke="#9a9a9a" stroke-width="0.8"/>
<rect x="181.35" y="257.5" width="5.8" height="14.800000000000011" fill="none" stroke="#111" stroke-width="0.8"/>
<line x1="179.85" y1="266.9" x2="188.65" y2="266.9" stroke="#111" stroke-width="0.8"/>
<line x1="181.35" y1="272.3" x2="187.15" y2="272.3" stroke="#111" stroke-width="1.4"/>
<line x1="194.65" y1="272.3" x2="194.65" y2="283.9" stroke="#2ad42a" stroke-width="0.8"/>
<line x1="194.65" y1="321.3" x2="194.65" y2="332.3" stroke="#2ad42a" stroke-width="0.8"/>
<rect x="191.75" y="283.9" width="5.8" height="37.400000000000034" fill="none" stroke="#2ad42a" stroke-width="0.8"/>
<line x1="190.25" y1="306.1" x2="199.05" y2="306.1" stroke="#2ad42a" stroke-width="0.8"/>
<line x1="191.75" y1="317.1" x2="197.55" y2="317.1" stroke="#2ad42a" stroke-width="0.8"/>
<line x1="193.95000000000002" y1="272.3" x2="195.35" y2="272.3" stroke="#2ad42a" stroke-width="0.8"/>
<line x1="193.95000000000002" y1="332.3" x2="195.35" y2="332.3" stroke="#2ad42a" stroke-width="0.8"/>
<circle cx="211.1" cy="317.5" r="0.75" fill="#888"/>
<circle cx="211.1" cy="332.7" r="0.75" fill="#888"/>
<circle cx="211.1" cy="362.1" r="0.75" fill="#888"/>
<line x1="206.4" y1="344.6" x2="216.0" y2="344.6" stroke="#9a9a9a" stroke-width="0.8"/>
<line x1="208.0" y1="347.2" x2="214.2" y2="347.2" stroke="#9a9a9a" stroke-width="0.8"/>
<circle cx="221.0" cy="257.3" r="0.85" fill="#111"/>
<rect x="218.2" y="269.4" width="6.2" height="3.0" fill="none" stroke="#111" stroke-width="0.8"/>
<line x1="216.8" y1="269.4" x2="225.6" y2="269.4" stroke="#111" stroke-width="1.2"/>
<rect x="228.7" y="258.1" width="5.8" height="3.5" fill="#8fe88f" stroke="#2ad42a" stroke-width="1.2"/>
<line x1="227.4" y1="259.8" x2="235.8" y2="259.8" stroke="#2ad42a" stroke-width="0.9"/>
<circle cx="231.5" cy="272.3" r="0.75" fill="#2ad42a"/>
<path d="M45.4,229.3 L45.4,227.5 L64.1,227.5 L64.1,229.3" stroke="#444" stroke-width="0.7" fill="none"/>
<circle cx="54.60" cy="225.0" r="0.85" fill="#333"/>
<path d="M45.4,240.10000000000002 L45.4,238.3 L53.800000000000004,238.3 L54.6,239.70000000000002 L55.4,238.3 L64.1,238.3 L64.1,240.10000000000002" stroke="#444" stroke-width="0.7" fill="none"/>
<circle cx="47.40" cy="236.3" r="0.85" fill="#333"/>
<circle cx="49.70" cy="236.3" r="0.85" fill="#333"/>
<circle cx="52.00" cy="236.3" r="0.85" fill="#333"/>
<circle cx="58.25" cy="236.3" r="0.85" fill="#333"/>
<circle cx="60.55" cy="236.3" r="0.85" fill="#333"/>
<path d="M96.3,241.0 L96.3,239.2 L105.3,239.2 L105.3,241.0" stroke="#444" stroke-width="0.7" fill="none"/>
<circle cx="98.50" cy="236.2" r="0.85" fill="#333"/>
<circle cx="100.80" cy="236.2" r="0.85" fill="#333"/>
<circle cx="103.10" cy="236.2" r="0.85" fill="#333"/>
<path d="M136.4,240.8 L136.4,239.0 L145.5,239.0 L146.3,240.4 L147.10000000000002,239.0 L156.1,239.0 L156.1,240.8" stroke="#444" stroke-width="0.7" fill="none"/>
<circle cx="138.60" cy="236.0" r="0.85" fill="#333"/>
<circle cx="140.90" cy="236.0" r="0.85" fill="#333"/>
<circle cx="143.20" cy="236.0" r="0.85" fill="#333"/>
<circle cx="150.05" cy="236.0" r="0.85" fill="#333"/>
<circle cx="152.35" cy="236.0" r="0.85" fill="#333"/>
<path d="M175.5,229.0 L175.5,227.2 L193.8,227.2 L193.8,229.0" stroke="#444" stroke-width="0.7" fill="none"/>
<circle cx="182.80" cy="224.7" r="0.85" fill="#333"/>
<circle cx="185.10" cy="224.7" r="0.85" fill="#333"/>
<circle cx="187.40" cy="224.7" r="0.85" fill="#333"/>
<path d="M175.5,241.3 L175.5,239.5 L183.7,239.5 L184.5,240.9 L185.3,239.5 L193.8,239.5 L193.8,241.3" stroke="#444" stroke-width="0.7" fill="none"/>
<circle cx="177.30" cy="236.4" r="0.85" fill="#333"/>
<circle cx="179.60" cy="236.4" r="0.85" fill="#333"/>
<circle cx="181.90" cy="236.4" r="0.85" fill="#333"/>
<circle cx="188.00" cy="236.4" r="0.85" fill="#333"/>
<circle cx="190.30" cy="236.4" r="0.85" fill="#333"/>
<circle cx="192.60" cy="236.4" r="0.85" fill="#333"/>
<path d="M212.2,229.0 L212.2,227.2 L231.5,227.2 L231.5,229.0" stroke="#444" stroke-width="0.7" fill="none"/>
<circle cx="219.50" cy="224.9" r="0.85" fill="#333"/>
<circle cx="221.80" cy="224.9" r="0.85" fill="#333"/>
<circle cx="224.10" cy="224.9" r="0.85" fill="#333"/>
<path d="M212.2,240.4 L212.2,238.6 L221.3,238.6 L221.3,240.4" stroke="#444" stroke-width="0.7" fill="none"/>
<circle cx="214.50" cy="236.1" r="0.85" fill="#333"/>
<circle cx="216.80" cy="236.1" r="0.85" fill="#333"/>
<circle cx="219.10" cy="236.1" r="0.85" fill="#333"/>
<rect x="33.6" y="344.4" width="12.6" height="7.0" fill="none" stroke="#b8b8b8" stroke-width="1.0"/>
<text x="49.8" y="350.5" font-size="7.4" text-anchor="start" fill="#b4b4b4" stroke="#b4b4b4" stroke-width="0.12">PBS</text>
<rect x="33.6" y="354.9" width="12.6" height="7.0" fill="none" stroke="#111" stroke-width="1.0"/>
<text x="49.8" y="361.0" font-size="7.4" text-anchor="start" fill="#000" stroke="#000" stroke-width="0.12">Neo</text>
<rect x="33.6" y="365.0" width="12.6" height="7.0" fill="none" stroke="#2ad42a" stroke-width="1.0"/>
<text x="49.8" y="371.1" font-size="7.4" text-anchor="start" fill="#3ad83a" stroke="#3ad83a" stroke-width="0.12">Neo + 6SL</text>
<text x="243.8" y="185.4" font-size="6.4" text-anchor="start" fill="#000" stroke="#000" stroke-width="0.0" font-weight="bold">D</text>
<rect x="308.4" y="204.2" width="57.0" height="66.5" fill="#f1f1f1" stroke="#a0a0a0" stroke-width="0.6"/>
<text x="307.2" y="196.8" font-size="8.0" text-anchor="start" fill="#000" stroke="#000" stroke-width="0.12">Click ABR Wave I</text>
<line x1="273.3" y1="190.6" x2="273.3" y2="270.7" stroke="#333" stroke-width="0.9"/>
<line x1="273.3" y1="270.7" x2="365.5" y2="270.7" stroke="#333" stroke-width="0.9"/>
<line x1="273.3" y1="270.7" x2="275.3" y2="270.7" stroke="#333" stroke-width="0.8"/>
<text x="271.4" y="273.4" font-size="7.7" text-anchor="end" fill="#000" stroke="#000" stroke-width="0.12">0</text>
<line x1="273.3" y1="254.89999999999998" x2="275.3" y2="254.89999999999998" stroke="#333" stroke-width="0.8"/>
<text x="271.4" y="257.59999999999997" font-size="7.7" text-anchor="end" fill="#000" stroke="#000" stroke-width="0.12">2</text>
<line x1="273.3" y1="239.1" x2="275.3" y2="239.1" stroke="#333" stroke-width="0.8"/>
<text x="271.4" y="241.79999999999998" font-size="7.7" text-anchor="end" fill="#000" stroke="#000" stroke-width="0.12">4</text>
<line x1="273.3" y1="223.29999999999998" x2="275.3" y2="223.29999999999998" stroke="#333" stroke-width="0.8"/>
<text x="271.4" y="225.99999999999997" font-size="7.7" text-anchor="end" fill="#000" stroke="#000" stroke-width="0.12">6</text>
<line x1="273.3" y1="207.5" x2="275.3" y2="207.5" stroke="#333" stroke-width="0.8"/>
<text x="271.4" y="210.2" font-size="7.7" text-anchor="end" fill="#000" stroke="#000" stroke-width="0.12">8</text>
<line x1="273.3" y1="191.7" x2="275.3" y2="191.7" stroke="#333" stroke-width="0.8"/>
<text x="271.4" y="194.39999999999998" font-size="7.7" text-anchor="end" fill="#000" stroke="#000" stroke-width="0.12">10</text>
<line x1="286.0" y1="270.7" x2="286.0" y2="268.7" stroke="#333" stroke-width="0.8"/>
<text x="286.0" y="279.3" font-size="7.7" text-anchor="middle" fill="#000" stroke="#000" stroke-width="0.12">40</text>
<line x1="311.2" y1="270.7" x2="311.2" y2="268.7" stroke="#333" stroke-width="0.8"/>
<text x="311.2" y="279.3" font-size="7.7" text-anchor="middle" fill="#000" stroke="#000" stroke-width="0.12">60</text>
<line x1="336.4" y1="270.7" x2="336.4" y2="268.7" stroke="#333" stroke-width="0.8"/>
<text x="336.4" y="279.3" font-size="7.7" text-anchor="middle" fill="#000" stroke="#000" stroke-width="0.12">80</text>
<line x1="361.59999999999997" y1="270.7" x2="361.59999999999997" y2="268.7" stroke="#333" stroke-width="0.8"/>
<text x="362.4" y="279.3" font-size="7.7" text-anchor="middle" fill="#000" stroke="#000" stroke-width="0.12">100</text>
<text x="326.3" y="289.3" font-size="8" text-anchor="middle" fill="#000" stroke="#000" stroke-width="0.12">Level (dB SPL)</text>
<text x="255.4" y="226.7" font-size="7" text-anchor="middle" fill="#000" stroke="#000" stroke-width="0.12" transform="rotate(-90 255.4 226.7)">Mean Amplitude (µV)</text>
<text x="278.0" y="193.9" font-size="7.2" text-anchor="start" fill="#bdbdbd" stroke="#bdbdbd" stroke-width="0.12">PBS</text>
<text x="278.0" y="201.6" font-size="7.2" text-anchor="start" fill="#000" stroke="#000" stroke-width="0.12">Neo</text>
<text x="278.0" y="209.3" font-size="7.2" text-anchor="start" fill="#3ad83a" stroke="#3ad83a" stroke-width="0.12">Neo + 6SL</text>
<path d="M273.40,268.20 L279.70,268.00 L286.00,266.30 L292.30,261.40 L298.60,257.10 L304.90,250.00 L311.20,242.90 L317.50,237.40 L323.80,231.50 L330.10,225.00 L336.40,222.00 L342.70,218.00 L349.00,216.00 L355.30,215.40 L361.60,212.10" stroke="#9d9d9d" stroke-width="1.3" fill="none"/>
<line x1="292.29999999999995" y1="259.9" x2="292.29999999999995" y2="262.9" stroke="#9d9d9d" stroke-width="1.2"/>
<line x1="289.69999999999993" y1="259.9" x2="294.9" y2="259.9" stroke="#9d9d9d" stroke-width="1.2"/>
<line x1="289.69999999999993" y1="262.9" x2="294.9" y2="262.9" stroke="#9d9d9d" stroke-width="1.2"/>
<line x1="298.59999999999997" y1="255.10000000000002" x2="298.59999999999997" y2="259.1" stroke="#9d9d9d" stroke-width="1.2"/>
<line x1="295.99999999999994" y1="255.10000000000002" x2="301.2" y2="255.10000000000002" stroke="#9d9d9d" stroke-width="1.2"/>
<line x1="295.99999999999994" y1="259.1" x2="301.2" y2="259.1" stroke="#9d9d9d" stroke-width="1.2"/>
<line x1="304.9" y1="247.2" x2="304.9" y2="252.8" stroke="#9d9d9d" stroke-width="1.2"/>
<line x1="302.29999999999995" y1="247.2" x2="307.5" y2="247.2" stroke="#9d9d9d" stroke-width="1.2"/>
<line x1="302.29999999999995" y1="252.8" x2="307.5" y2="252.8" stroke="#9d9d9d" stroke-width="1.2"/>
<line x1="311.2" y1="239.5" x2="311.2" y2="246.3" stroke="#9d9d9d" stroke-width="1.2"/>
<line x1="308.59999999999997" y1="239.5" x2="313.8" y2="239.5" stroke="#9d9d9d" stroke-width="1.2"/>
<line x1="308.59999999999997" y1="246.3" x2="313.8" y2="246.3" stroke="#9d9d9d" stroke-width="1.2"/>
<line x1="317.5" y1="233.5" x2="317.5" y2="241.3" stroke="#9d9d9d" stroke-width="1.2"/>
<line x1="314.9" y1="233.5" x2="320.1" y2="233.5" stroke="#9d9d9d" stroke-width="1.2"/>
<line x1="314.9" y1="241.3" x2="320.1" y2="241.3" stroke="#9d9d9d" stroke-width="1.2"/>
<line x1="323.79999999999995" y1="227.0" x2="323.79999999999995" y2="236.0" stroke="#9d9d9d" stroke-width="1.2"/>
<line x1="321.19999999999993" y1="227.0" x2="326.4" y2="227.0" stroke="#9d9d9d" stroke-width="1.2"/>
<line x1="321.19999999999993" y1="236.0" x2="326.4" y2="236.0" stroke="#9d9d9d" stroke-width="1.2"/>
<line x1="330.09999999999997" y1="220.2" x2="330.09999999999997" y2="229.8" stroke="#9d9d9d" stroke-width="1.2"/>
<line x1="327.49999999999994" y1="220.2" x2="332.7" y2="220.2" stroke="#9d9d9d" stroke-width="1.2"/>
<line x1="327.49999999999994" y1="229.8" x2="332.7" y2="229.8" stroke="#9d9d9d" stroke-width="1.2"/>
<line x1="336.4" y1="216.8" x2="336.4" y2="227.2" stroke="#9d9d9d" stroke-width="1.2"/>
<line x1="333.79999999999995" y1="216.8" x2="339.0" y2="216.8" stroke="#9d9d9d" stroke-width="1.2"/>
<line x1="333.79999999999995" y1="227.2" x2="339.0" y2="227.2" stroke="#9d9d9d" stroke-width="1.2"/>
<line x1="342.7" y1="212.6" x2="342.7" y2="223.4" stroke="#9d9d9d" stroke-width="1.2"/>
<line x1="340.09999999999997" y1="212.6" x2="345.3" y2="212.6" stroke="#9d9d9d" stroke-width="1.2"/>
<line x1="340.09999999999997" y1="223.4" x2="345.3" y2="223.4" stroke="#9d9d9d" stroke-width="1.2"/>
<line x1="349.0" y1="210.5" x2="349.0" y2="221.5" stroke="#9d9d9d" stroke-width="1.2"/>
<line x1="346.4" y1="210.5" x2="351.6" y2="210.5" stroke="#9d9d9d" stroke-width="1.2"/>
<line x1="346.4" y1="221.5" x2="351.6" y2="221.5" stroke="#9d9d9d" stroke-width="1.2"/>
<line x1="355.29999999999995" y1="209.20000000000002" x2="355.29999999999995" y2="221.6" stroke="#9d9d9d" stroke-width="1.2"/>
<line x1="352.69999999999993" y1="209.20000000000002" x2="357.9" y2="209.20000000000002" stroke="#9d9d9d" stroke-width="1.2"/>
<line x1="352.69999999999993" y1="221.6" x2="357.9" y2="221.6" stroke="#9d9d9d" stroke-width="1.2"/>
<line x1="361.59999999999997" y1="206.1" x2="361.59999999999997" y2="218.1" stroke="#9d9d9d" stroke-width="1.2"/>
<line x1="358.99999999999994" y1="206.1" x2="364.2" y2="206.1" stroke="#9d9d9d" stroke-width="1.2"/>
<line x1="358.99999999999994" y1="218.1" x2="364.2" y2="218.1" stroke="#9d9d9d" stroke-width="1.2"/>
<rect x="271.05" y="265.85" width="4.7" height="4.7" fill="#9d9d9d"/>
<rect x="277.35" y="265.65" width="4.7" height="4.7" fill="#9d9d9d"/>
<rect x="283.65" y="263.95" width="4.7" height="4.7" fill="#9d9d9d"/>
<rect x="289.95" y="259.05" width="4.7" height="4.7" fill="#9d9d9d"/>
<rect x="296.25" y="254.75" width="4.7" height="4.7" fill="#9d9d9d"/>
<rect x="302.55" y="247.65" width="4.7" height="4.7" fill="#9d9d9d"/>
<rect x="308.85" y="240.55" width="4.7" height="4.7" fill="#9d9d9d"/>
<rect x="315.15" y="235.05" width="4.7" height="4.7" fill="#9d9d9d"/>
<rect x="321.45" y="229.15" width="4.7" height="4.7" fill="#9d9d9d"/>
<rect x="327.75" y="222.65" width="4.7" height="4.7" fill="#9d9d9d"/>
<rect x="334.05" y="219.65" width="4.7" height="4.7" fill="#9d9d9d"/>
<rect x="340.35" y="215.65" width="4.7" height="4.7" fill="#9d9d9d"/>
<rect x="346.65" y="213.65" width="4.7" height="4.7" fill="#9d9d9d"/>
<rect x="352.95" y="213.05" width="4.7" height="4.7" fill="#9d9d9d"/>
<rect x="359.25" y="209.75" width="4.7" height="4.7" fill="#9d9d9d"/>
<path d="M292.30,267.10 L298.60,267.10 L304.90,267.10 L311.20,262.80 L317.50,257.40 L323.80,255.00 L330.10,252.60 L336.40,252.40 L342.70,251.80 L349.00,253.00 L355.30,254.00 L361.60,250.20" stroke="#19e619" stroke-width="1.3" fill="none"/>
<line x1="311.2" y1="260.3" x2="311.2" y2="265.3" stroke="#19e619" stroke-width="1.2"/>
<line x1="308.59999999999997" y1="260.3" x2="313.8" y2="260.3" stroke="#19e619" stroke-width="1.2"/>
<line x1="308.59999999999997" y1="265.3" x2="313.8" y2="265.3" stroke="#19e619" stroke-width="1.2"/>
<line x1="317.5" y1="253.89999999999998" x2="317.5" y2="260.9" stroke="#19e619" stroke-width="1.2"/>
<line x1="314.9" y1="253.89999999999998" x2="320.1" y2="253.89999999999998" stroke="#19e619" stroke-width="1.2"/>
<line x1="314.9" y1="260.9" x2="320.1" y2="260.9" stroke="#19e619" stroke-width="1.2"/>
<line x1="323.79999999999995" y1="250.7" x2="323.79999999999995" y2="259.3" stroke="#19e619" stroke-width="1.2"/>
<line x1="321.19999999999993" y1="250.7" x2="326.4" y2="250.7" stroke="#19e619" stroke-width="1.2"/>
<line x1="321.19999999999993" y1="259.3" x2="326.4" y2="259.3" stroke="#19e619" stroke-width="1.2"/>
<line x1="330.09999999999997" y1="248.29999999999998" x2="330.09999999999997" y2="256.9" stroke="#19e619" stroke-width="1.2"/>
<line x1="327.49999999999994" y1="248.29999999999998" x2="332.7" y2="248.29999999999998" stroke="#19e619" stroke-width="1.2"/>
<line x1="327.49999999999994" y1="256.9" x2="332.7" y2="256.9" stroke="#19e619" stroke-width="1.2"/>
<line x1="336.4" y1="247.8" x2="336.4" y2="257.0" stroke="#19e619" stroke-width="1.2"/>
<line x1="333.79999999999995" y1="247.8" x2="339.0" y2="247.8" stroke="#19e619" stroke-width="1.2"/>
<line x1="333.79999999999995" y1="257.0" x2="339.0" y2="257.0" stroke="#19e619" stroke-width="1.2"/>
<line x1="342.7" y1="246.5" x2="342.7" y2="257.1" stroke="#19e619" stroke-width="1.2"/>
<line x1="340.09999999999997" y1="246.5" x2="345.3" y2="246.5" stroke="#19e619" stroke-width="1.2"/>
<line x1="340.09999999999997" y1="257.1" x2="345.3" y2="257.1" stroke="#19e619" stroke-width="1.2"/>
<line x1="349.0" y1="248.0" x2="349.0" y2="258.0" stroke="#19e619" stroke-width="1.2"/>
<line x1="346.4" y1="248.0" x2="351.6" y2="248.0" stroke="#19e619" stroke-width="1.2"/>
<line x1="346.4" y1="258.0" x2="351.6" y2="258.0" stroke="#19e619" stroke-width="1.2"/>
<line x1="355.29999999999995" y1="249.2" x2="355.29999999999995" y2="258.8" stroke="#19e619" stroke-width="1.2"/>
<line x1="352.69999999999993" y1="249.2" x2="357.9" y2="249.2" stroke="#19e619" stroke-width="1.2"/>
<line x1="352.69999999999993" y1="258.8" x2="357.9" y2="258.8" stroke="#19e619" stroke-width="1.2"/>
<line x1="361.59999999999997" y1="245.39999999999998" x2="361.59999999999997" y2="255.0" stroke="#19e619" stroke-width="1.2"/>
<line x1="358.99999999999994" y1="245.39999999999998" x2="364.2" y2="245.39999999999998" stroke="#19e619" stroke-width="1.2"/>
<line x1="358.99999999999994" y1="255.0" x2="364.2" y2="255.0" stroke="#19e619" stroke-width="1.2"/>
<circle cx="292.30" cy="267.10" r="2.8" fill="#19e619"/>
<circle cx="298.60" cy="267.10" r="2.8" fill="#19e619"/>
<circle cx="304.90" cy="267.10" r="2.8" fill="#19e619"/>
<circle cx="311.20" cy="262.80" r="2.8" fill="#19e619"/>
<circle cx="317.50" cy="257.40" r="2.8" fill="#19e619"/>
<circle cx="323.80" cy="255.00" r="2.8" fill="#19e619"/>
<circle cx="330.10" cy="252.60" r="2.8" fill="#19e619"/>
<circle cx="336.40" cy="252.40" r="2.8" fill="#19e619"/>
<circle cx="342.70" cy="251.80" r="2.8" fill="#19e619"/>
<circle cx="349.00" cy="253.00" r="2.8" fill="#19e619"/>
<circle cx="355.30" cy="254.00" r="2.8" fill="#19e619"/>
<circle cx="361.60" cy="250.20" r="2.8" fill="#19e619"/>
<path d="M311.20,267.60 L317.50,265.40 L323.80,263.60 L330.10,261.40 L336.40,261.80 L342.70,259.60 L349.00,259.40 L355.30,257.40 L361.60,255.60" stroke="#000" stroke-width="1.3" fill="none"/>
<line x1="311.2" y1="266.6" x2="311.2" y2="268.6" stroke="#000" stroke-width="1.2"/>
<line x1="308.59999999999997" y1="266.6" x2="313.8" y2="266.6" stroke="#000" stroke-width="1.2"/>
<line x1="308.59999999999997" y1="268.6" x2="313.8" y2="268.6" stroke="#000" stroke-width="1.2"/>
<line x1="317.5" y1="263.59999999999997" x2="317.5" y2="267.2" stroke="#000" stroke-width="1.2"/>
<line x1="314.9" y1="263.59999999999997" x2="320.1" y2="263.59999999999997" stroke="#000" stroke-width="1.2"/>
<line x1="314.9" y1="267.2" x2="320.1" y2="267.2" stroke="#000" stroke-width="1.2"/>
<line x1="323.79999999999995" y1="261.8" x2="323.79999999999995" y2="265.40000000000003" stroke="#000" stroke-width="1.2"/>
<line x1="321.19999999999993" y1="261.8" x2="326.4" y2="261.8" stroke="#000" stroke-width="1.2"/>
<line x1="321.19999999999993" y1="265.40000000000003" x2="326.4" y2="265.40000000000003" stroke="#000" stroke-width="1.2"/>
<line x1="330.09999999999997" y1="259.0" x2="330.09999999999997" y2="263.79999999999995" stroke="#000" stroke-width="1.2"/>
<line x1="327.49999999999994" y1="259.0" x2="332.7" y2="259.0" stroke="#000" stroke-width="1.2"/>
<line x1="327.49999999999994" y1="263.79999999999995" x2="332.7" y2="263.79999999999995" stroke="#000" stroke-width="1.2"/>
<line x1="336.4" y1="259.40000000000003" x2="336.4" y2="264.2" stroke="#000" stroke-width="1.2"/>
<line x1="333.79999999999995" y1="259.40000000000003" x2="339.0" y2="259.40000000000003" stroke="#000" stroke-width="1.2"/>
<line x1="333.79999999999995" y1="264.2" x2="339.0" y2="264.2" stroke="#000" stroke-width="1.2"/>
<line x1="342.7" y1="257.0" x2="342.7" y2="262.20000000000005" stroke="#000" stroke-width="1.2"/>
<line x1="340.09999999999997" y1="257.0" x2="345.3" y2="257.0" stroke="#000" stroke-width="1.2"/>
<line x1="340.09999999999997" y1="262.20000000000005" x2="345.3" y2="262.20000000000005" stroke="#000" stroke-width="1.2"/>
<line x1="349.0" y1="256.79999999999995" x2="349.0" y2="262.0" stroke="#000" stroke-width="1.2"/>
<line x1="346.4" y1="256.79999999999995" x2="351.6" y2="256.79999999999995" stroke="#000" stroke-width="1.2"/>
<line x1="346.4" y1="262.0" x2="351.6" y2="262.0" stroke="#000" stroke-width="1.2"/>
<line x1="355.29999999999995" y1="254.79999999999998" x2="355.29999999999995" y2="260.0" stroke="#000" stroke-width="1.2"/>
<line x1="352.69999999999993" y1="254.79999999999998" x2="357.9" y2="254.79999999999998" stroke="#000" stroke-width="1.2"/>
<line x1="352.69999999999993" y1="260.0" x2="357.9" y2="260.0" stroke="#000" stroke-width="1.2"/>
<line x1="361.59999999999997" y1="253.0" x2="361.59999999999997" y2="258.2" stroke="#000" stroke-width="1.2"/>
<line x1="358.99999999999994" y1="253.0" x2="364.2" y2="253.0" stroke="#000" stroke-width="1.2"/>
<line x1="358.99999999999994" y1="258.2" x2="364.2" y2="258.2" stroke="#000" stroke-width="1.2"/>
<rect x="308.90" y="265.30" width="4.6" height="4.6" fill="#000"/>
<rect x="315.20" y="263.10" width="4.6" height="4.6" fill="#000"/>
<rect x="321.50" y="261.30" width="4.6" height="4.6" fill="#000"/>
<rect x="327.80" y="259.10" width="4.6" height="4.6" fill="#000"/>
<rect x="334.10" y="259.50" width="4.6" height="4.6" fill="#000"/>
<rect x="340.40" y="257.30" width="4.6" height="4.6" fill="#000"/>
<rect x="346.70" y="257.10" width="4.6" height="4.6" fill="#000"/>
<rect x="353.00" y="255.10" width="4.6" height="4.6" fill="#000"/>
<rect x="359.30" y="253.30" width="4.6" height="4.6" fill="#000"/>
<path d="M367.5,211.8 L368.9,211.8 L368.9,249.5 L367.5,249.5" stroke="#444" stroke-width="0.9" fill="none"/>
<path d="M374.1,211.8 L375.5,211.8 L375.5,254.0 L374.1,254.0" stroke="#444" stroke-width="0.9" fill="none"/>
<circle cx="370.9" cy="227.0" r="0.75" fill="#333"/>
<circle cx="370.9" cy="229.4" r="0.75" fill="#333"/>
<circle cx="370.9" cy="231.8" r="0.75" fill="#333"/>
<circle cx="377.6" cy="231.0" r="0.75" fill="#333"/>
<circle cx="377.6" cy="233.4" r="0.75" fill="#333"/>
<circle cx="377.6" cy="235.8" r="0.75" fill="#333"/>
<text x="243.8" y="294.2" font-size="6.4" text-anchor="start" fill="#000" stroke="#000" stroke-width="0.0" font-weight="bold">E</text>
<rect x="333.7" y="326.4" width="31.8" height="51.5" fill="#f1f1f1" stroke="#a0a0a0" stroke-width="0.6"/>
<text x="309.0" y="308.6" font-size="8.0" text-anchor="start" fill="#000" stroke="#000" stroke-width="0.12">Click ABR Wave I</text>
<line x1="273.3" y1="299.0" x2="273.3" y2="377.9" stroke="#333" stroke-width="0.9"/>
<line x1="273.3" y1="377.9" x2="365.5" y2="377.9" stroke="#333" stroke-width="0.9"/>
<line x1="273.3" y1="377.9" x2="275.3" y2="377.9" stroke="#333" stroke-width="0.8"/>
<text x="271.4" y="380.59999999999997" font-size="7.7" text-anchor="end" fill="#000" stroke="#000" stroke-width="0.12">1.4</text>
<line x1="273.3" y1="358.24999999999994" x2="275.3" y2="358.24999999999994" stroke="#333" stroke-width="0.8"/>
<text x="271.4" y="360.94999999999993" font-size="7.7" text-anchor="end" fill="#000" stroke="#000" stroke-width="0.12">1.6</text>
<line x1="273.3" y1="338.59999999999997" x2="275.3" y2="338.59999999999997" stroke="#333" stroke-width="0.8"/>
<text x="271.4" y="341.29999999999995" font-size="7.7" text-anchor="end" fill="#000" stroke="#000" stroke-width="0.12">1.8</text>
<line x1="273.3" y1="318.95" x2="275.3" y2="318.95" stroke="#333" stroke-width="0.8"/>
<text x="271.4" y="321.65" font-size="7.7" text-anchor="end" fill="#000" stroke="#000" stroke-width="0.12">2.0</text>
<line x1="273.3" y1="299.29999999999995" x2="275.3" y2="299.29999999999995" stroke="#333" stroke-width="0.8"/>
<text x="271.4" y="301.99999999999994" font-size="7.7" text-anchor="end" fill="#000" stroke="#000" stroke-width="0.12">2.2</text>
<line x1="286.0" y1="377.9" x2="286.0" y2="375.9" stroke="#333" stroke-width="0.8"/>
<text x="286.0" y="386.3" font-size="7.7" text-anchor="middle" fill="#000" stroke="#000" stroke-width="0.12">40</text>
<line x1="311.2" y1="377.9" x2="311.2" y2="375.9" stroke="#333" stroke-width="0.8"/>
<text x="311.2" y="386.3" font-size="7.7" text-anchor="middle" fill="#000" stroke="#000" stroke-width="0.12">60</text>
<line x1="336.4" y1="377.9" x2="336.4" y2="375.9" stroke="#333" stroke-width="0.8"/>
<text x="336.4" y="386.3" font-size="7.7" text-anchor="middle" fill="#000" stroke="#000" stroke-width="0.12">80</text>
<line x1="361.59999999999997" y1="377.9" x2="361.59999999999997" y2="375.9" stroke="#333" stroke-width="0.8"/>
<text x="362.4" y="386.3" font-size="7.7" text-anchor="middle" fill="#000" stroke="#000" stroke-width="0.12">100</text>
<text x="326.3" y="397.6" font-size="8" text-anchor="middle" fill="#000" stroke="#000" stroke-width="0.12">Level (dB SPL)</text>
<text x="255.6" y="332.1" font-size="7" text-anchor="middle" fill="#000" stroke="#000" stroke-width="0.12" transform="rotate(-90 255.6 332.1)">Mean Latency (ms)</text>
<text x="277.9" y="359.4" font-size="7.2" text-anchor="start" fill="#bdbdbd" stroke="#bdbdbd" stroke-width="0.12">PBS</text>
<text x="277.9" y="367.9" font-size="7.2" text-anchor="start" fill="#000" stroke="#000" stroke-width="0.12">Neo</text>
<text x="277.9" y="375.3" font-size="7.2" text-anchor="start" fill="#3ad83a" stroke="#3ad83a" stroke-width="0.12">Neo + 6SL</text>
<path d="M273.40,329.70 L279.70,320.50 L286.00,330.90 L292.30,336.50 L298.60,342.40 L304.90,345.80 L311.20,349.00 L317.50,353.00 L323.80,356.30 L330.10,360.30 L336.40,363.30 L342.70,366.60 L349.00,369.40 L355.30,373.00 L361.60,376.00" stroke="#9d9d9d" stroke-width="1.3" fill="none"/>
<line x1="273.4" y1="323.7" x2="273.4" y2="335.7" stroke="#9d9d9d" stroke-width="1.2"/>
<line x1="270.79999999999995" y1="323.7" x2="276.0" y2="323.7" stroke="#9d9d9d" stroke-width="1.2"/>
<line x1="270.79999999999995" y1="335.7" x2="276.0" y2="335.7" stroke="#9d9d9d" stroke-width="1.2"/>
<line x1="279.7" y1="315.0" x2="279.7" y2="326.0" stroke="#9d9d9d" stroke-width="1.2"/>
<line x1="277.09999999999997" y1="315.0" x2="282.3" y2="315.0" stroke="#9d9d9d" stroke-width="1.2"/>
<line x1="277.09999999999997" y1="326.0" x2="282.3" y2="326.0" stroke="#9d9d9d" stroke-width="1.2"/>
<line x1="286.0" y1="325.09999999999997" x2="286.0" y2="336.7" stroke="#9d9d9d" stroke-width="1.2"/>
<line x1="283.4" y1="325.09999999999997" x2="288.6" y2="325.09999999999997" stroke="#9d9d9d" stroke-width="1.2"/>
<line x1="283.4" y1="336.7" x2="288.6" y2="336.7" stroke="#9d9d9d" stroke-width="1.2"/>
<line x1="292.29999999999995" y1="332.0" x2="292.29999999999995" y2="341.0" stroke="#9d9d9d" stroke-width="1.2"/>
<line x1="289.69999999999993" y1="332.0" x2="294.9" y2="332.0" stroke="#9d9d9d" stroke-width="1.2"/>
<line x1="289.69999999999993" y1="341.0" x2="294.9" y2="341.0" stroke="#9d9d9d" stroke-width="1.2"/>
<line x1="298.59999999999997" y1="338.2" x2="298.59999999999997" y2="346.59999999999997" stroke="#9d9d9d" stroke-width="1.2"/>
<line x1="295.99999999999994" y1="338.2" x2="301.2" y2="338.2" stroke="#9d9d9d" stroke-width="1.2"/>
<line x1="295.99999999999994" y1="346.59999999999997" x2="301.2" y2="346.59999999999997" stroke="#9d9d9d" stroke-width="1.2"/>
<line x1="304.9" y1="341.8" x2="304.9" y2="349.8" stroke="#9d9d9d" stroke-width="1.2"/>
<line x1="302.29999999999995" y1="341.8" x2="307.5" y2="341.8" stroke="#9d9d9d" stroke-width="1.2"/>
<line x1="302.29999999999995" y1="349.8" x2="307.5" y2="349.8" stroke="#9d9d9d" stroke-width="1.2"/>
<line x1="311.2" y1="345.0" x2="311.2" y2="353.0" stroke="#9d9d9d" stroke-width="1.2"/>
<line x1="308.59999999999997" y1="345.0" x2="313.8" y2="345.0" stroke="#9d9d9d" stroke-width="1.2"/>
<line x1="308.59999999999997" y1="353.0" x2="313.8" y2="353.0" stroke="#9d9d9d" stroke-width="1.2"/>
<line x1="317.5" y1="349.0" x2="317.5" y2="357.0" stroke="#9d9d9d" stroke-width="1.2"/>
<line x1="314.9" y1="349.0" x2="320.1" y2="349.0" stroke="#9d9d9d" stroke-width="1.2"/>
<line x1="314.9" y1="357.0" x2="320.1" y2="357.0" stroke="#9d9d9d" stroke-width="1.2"/>
<line x1="323.79999999999995" y1="352.3" x2="323.79999999999995" y2="360.3" stroke="#9d9d9d" stroke-width="1.2"/>
<line x1="321.19999999999993" y1="352.3" x2="326.4" y2="352.3" stroke="#9d9d9d" stroke-width="1.2"/>
<line x1="321.19999999999993" y1="360.3" x2="326.4" y2="360.3" stroke="#9d9d9d" stroke-width="1.2"/>
<line x1="330.09999999999997" y1="356.3" x2="330.09999999999997" y2="364.3" stroke="#9d9d9d" stroke-width="1.2"/>
<line x1="327.49999999999994" y1="356.3" x2="332.7" y2="356.3" stroke="#9d9d9d" stroke-width="1.2"/>
<line x1="327.49999999999994" y1="364.3" x2="332.7" y2="364.3" stroke="#9d9d9d" stroke-width="1.2"/>
<line x1="336.4" y1="359.3" x2="336.4" y2="367.3" stroke="#9d9d9d" stroke-width="1.2"/>
<line x1="333.79999999999995" y1="359.3" x2="339.0" y2="359.3" stroke="#9d9d9d" stroke-width="1.2"/>
<line x1="333.79999999999995" y1="367.3" x2="339.0" y2="367.3" stroke="#9d9d9d" stroke-width="1.2"/>
<line x1="342.7" y1="362.6" x2="342.7" y2="370.6" stroke="#9d9d9d" stroke-width="1.2"/>
<line x1="340.09999999999997" y1="362.6" x2="345.3" y2="362.6" stroke="#9d9d9d" stroke-width="1.2"/>
<line x1="340.09999999999997" y1="370.6" x2="345.3" y2="370.6" stroke="#9d9d9d" stroke-width="1.2"/>
<line x1="349.0" y1="365.4" x2="349.0" y2="373.4" stroke="#9d9d9d" stroke-width="1.2"/>
<line x1="346.4" y1="365.4" x2="351.6" y2="365.4" stroke="#9d9d9d" stroke-width="1.2"/>
<line x1="346.4" y1="373.4" x2="351.6" y2="373.4" stroke="#9d9d9d" stroke-width="1.2"/>
<line x1="355.29999999999995" y1="369.0" x2="355.29999999999995" y2="377.0" stroke="#9d9d9d" stroke-width="1.2"/>
<line x1="352.69999999999993" y1="369.0" x2="357.9" y2="369.0" stroke="#9d9d9d" stroke-width="1.2"/>
<line x1="352.69999999999993" y1="377.0" x2="357.9" y2="377.0" stroke="#9d9d9d" stroke-width="1.2"/>
<line x1="361.59999999999997" y1="372.5" x2="361.59999999999997" y2="379.5" stroke="#9d9d9d" stroke-width="1.2"/>
<line x1="358.99999999999994" y1="372.5" x2="364.2" y2="372.5" stroke="#9d9d9d" stroke-width="1.2"/>
<line x1="358.99999999999994" y1="379.5" x2="364.2" y2="379.5" stroke="#9d9d9d" stroke-width="1.2"/>
<rect x="270.90" y="327.20" width="5.0" height="5.0" fill="#9d9d9d"/>
<rect x="277.20" y="318.00" width="5.0" height="5.0" fill="#9d9d9d"/>
<rect x="283.50" y="328.40" width="5.0" height="5.0" fill="#9d9d9d"/>
<rect x="289.80" y="334.00" width="5.0" height="5.0" fill="#9d9d9d"/>
<rect x="296.10" y="339.90" width="5.0" height="5.0" fill="#9d9d9d"/>
<rect x="302.40" y="343.30" width="5.0" height="5.0" fill="#9d9d9d"/>
<rect x="308.70" y="346.50" width="5.0" height="5.0" fill="#9d9d9d"/>
<rect x="315.00" y="350.50" width="5.0" height="5.0" fill="#9d9d9d"/>
<rect x="321.30" y="353.80" width="5.0" height="5.0" fill="#9d9d9d"/>
<rect x="327.60" y="357.80" width="5.0" height="5.0" fill="#9d9d9d"/>
<rect x="333.90" y="360.80" width="5.0" height="5.0" fill="#9d9d9d"/>
<rect x="340.20" y="364.10" width="5.0" height="5.0" fill="#9d9d9d"/>
<rect x="346.50" y="366.90" width="5.0" height="5.0" fill="#9d9d9d"/>
<rect x="352.80" y="370.50" width="5.0" height="5.0" fill="#9d9d9d"/>
<rect x="359.10" y="373.50" width="5.0" height="5.0" fill="#9d9d9d"/>
<path d="M304.90,325.00 L311.20,326.50 L317.50,339.80 L323.80,336.50 L330.10,342.00 L336.40,336.30 L342.70,342.30 L349.00,347.90 L355.30,353.00 L361.60,357.20" stroke="#000" stroke-width="1.3" fill="none"/>
<line x1="304.9" y1="321.0" x2="304.9" y2="329.0" stroke="#000" stroke-width="1.2"/>
<line x1="302.29999999999995" y1="321.0" x2="307.5" y2="321.0" stroke="#000" stroke-width="1.2"/>
<line x1="302.29999999999995" y1="329.0" x2="307.5" y2="329.0" stroke="#000" stroke-width="1.2"/>
<line x1="311.2" y1="321.5" x2="311.2" y2="331.5" stroke="#000" stroke-width="1.2"/>
<line x1="308.59999999999997" y1="321.5" x2="313.8" y2="321.5" stroke="#000" stroke-width="1.2"/>
<line x1="308.59999999999997" y1="331.5" x2="313.8" y2="331.5" stroke="#000" stroke-width="1.2"/>
<line x1="317.5" y1="335.8" x2="317.5" y2="343.8" stroke="#000" stroke-width="1.2"/>
<line x1="314.9" y1="335.8" x2="320.1" y2="335.8" stroke="#000" stroke-width="1.2"/>
<line x1="314.9" y1="343.8" x2="320.1" y2="343.8" stroke="#000" stroke-width="1.2"/>
<line x1="323.79999999999995" y1="330.5" x2="323.79999999999995" y2="342.5" stroke="#000" stroke-width="1.2"/>
<line x1="321.19999999999993" y1="330.5" x2="326.4" y2="330.5" stroke="#000" stroke-width="1.2"/>
<line x1="321.19999999999993" y1="342.5" x2="326.4" y2="342.5" stroke="#000" stroke-width="1.2"/>
<line x1="330.09999999999997" y1="337.0" x2="330.09999999999997" y2="347.0" stroke="#000" stroke-width="1.2"/>
<line x1="327.49999999999994" y1="337.0" x2="332.7" y2="337.0" stroke="#000" stroke-width="1.2"/>
<line x1="327.49999999999994" y1="347.0" x2="332.7" y2="347.0" stroke="#000" stroke-width="1.2"/>
<line x1="336.4" y1="329.3" x2="336.4" y2="343.3" stroke="#000" stroke-width="1.2"/>
<line x1="333.79999999999995" y1="329.3" x2="339.0" y2="329.3" stroke="#000" stroke-width="1.2"/>
<line x1="333.79999999999995" y1="343.3" x2="339.0" y2="343.3" stroke="#000" stroke-width="1.2"/>
<line x1="342.7" y1="336.3" x2="342.7" y2="348.3" stroke="#000" stroke-width="1.2"/>
<line x1="340.09999999999997" y1="336.3" x2="345.3" y2="336.3" stroke="#000" stroke-width="1.2"/>
<line x1="340.09999999999997" y1="348.3" x2="345.3" y2="348.3" stroke="#000" stroke-width="1.2"/>
<line x1="349.0" y1="341.9" x2="349.0" y2="353.9" stroke="#000" stroke-width="1.2"/>
<line x1="346.4" y1="341.9" x2="351.6" y2="341.9" stroke="#000" stroke-width="1.2"/>
<line x1="346.4" y1="353.9" x2="351.6" y2="353.9" stroke="#000" stroke-width="1.2"/>
<line x1="355.29999999999995" y1="347.0" x2="355.29999999999995" y2="359.0" stroke="#000" stroke-width="1.2"/>
<line x1="352.69999999999993" y1="347.0" x2="357.9" y2="347.0" stroke="#000" stroke-width="1.2"/>
<line x1="352.69999999999993" y1="359.0" x2="357.9" y2="359.0" stroke="#000" stroke-width="1.2"/>
<line x1="361.59999999999997" y1="351.2" x2="361.59999999999997" y2="363.2" stroke="#000" stroke-width="1.2"/>
<line x1="358.99999999999994" y1="351.2" x2="364.2" y2="351.2" stroke="#000" stroke-width="1.2"/>
<line x1="358.99999999999994" y1="363.2" x2="364.2" y2="363.2" stroke="#000" stroke-width="1.2"/>
<rect x="302.50" y="322.60" width="4.8" height="4.8" fill="#000"/>
<rect x="308.80" y="324.10" width="4.8" height="4.8" fill="#000"/>
<rect x="315.10" y="337.40" width="4.8" height="4.8" fill="#000"/>
<rect x="321.40" y="334.10" width="4.8" height="4.8" fill="#000"/>
<rect x="327.70" y="339.60" width="4.8" height="4.8" fill="#000"/>
<rect x="334.00" y="333.90" width="4.8" height="4.8" fill="#000"/>
<rect x="340.30" y="339.90" width="4.8" height="4.8" fill="#000"/>
<rect x="346.60" y="345.50" width="4.8" height="4.8" fill="#000"/>
<rect x="352.90" y="350.60" width="4.8" height="4.8" fill="#000"/>
<rect x="359.20" y="354.80" width="4.8" height="4.8" fill="#000"/>
<path d="M292.30,333.00 L298.60,322.30 L304.90,326.80 L311.20,328.40 L317.50,336.30 L323.80,344.00 L330.10,349.80 L336.40,355.80 L342.70,361.40 L349.00,365.60 L355.30,368.80 L361.60,371.20" stroke="#19e619" stroke-width="1.3" fill="none"/>
<line x1="292.29999999999995" y1="312.0" x2="292.29999999999995" y2="354.0" stroke="#19e619" stroke-width="1.2"/>
<line x1="289.69999999999993" y1="312.0" x2="294.9" y2="312.0" stroke="#19e619" stroke-width="1.2"/>
<line x1="289.69999999999993" y1="354.0" x2="294.9" y2="354.0" stroke="#19e619" stroke-width="1.2"/>
<line x1="298.59999999999997" y1="315.3" x2="298.59999999999997" y2="329.3" stroke="#19e619" stroke-width="1.2"/>
<line x1="295.99999999999994" y1="315.3" x2="301.2" y2="315.3" stroke="#19e619" stroke-width="1.2"/>
<line x1="295.99999999999994" y1="329.3" x2="301.2" y2="329.3" stroke="#19e619" stroke-width="1.2"/>
<line x1="304.9" y1="314.3" x2="304.9" y2="339.3" stroke="#19e619" stroke-width="1.2"/>
<line x1="302.29999999999995" y1="314.3" x2="307.5" y2="314.3" stroke="#19e619" stroke-width="1.2"/>
<line x1="302.29999999999995" y1="339.3" x2="307.5" y2="339.3" stroke="#19e619" stroke-width="1.2"/>
<line x1="311.2" y1="323.4" x2="311.2" y2="333.4" stroke="#19e619" stroke-width="1.2"/>
<line x1="308.59999999999997" y1="323.4" x2="313.8" y2="323.4" stroke="#19e619" stroke-width="1.2"/>
<line x1="308.59999999999997" y1="333.4" x2="313.8" y2="333.4" stroke="#19e619" stroke-width="1.2"/>
<line x1="317.5" y1="331.3" x2="317.5" y2="341.3" stroke="#19e619" stroke-width="1.2"/>
<line x1="314.9" y1="331.3" x2="320.1" y2="331.3" stroke="#19e619" stroke-width="1.2"/>
<line x1="314.9" y1="341.3" x2="320.1" y2="341.3" stroke="#19e619" stroke-width="1.2"/>
<line x1="323.79999999999995" y1="339.0" x2="323.79999999999995" y2="349.0" stroke="#19e619" stroke-width="1.2"/>
<line x1="321.19999999999993" y1="339.0" x2="326.4" y2="339.0" stroke="#19e619" stroke-width="1.2"/>
<line x1="321.19999999999993" y1="349.0" x2="326.4" y2="349.0" stroke="#19e619" stroke-width="1.2"/>
<line x1="330.09999999999997" y1="345.8" x2="330.09999999999997" y2="353.8" stroke="#19e619" stroke-width="1.2"/>
<line x1="327.49999999999994" y1="345.8" x2="332.7" y2="345.8" stroke="#19e619" stroke-width="1.2"/>
<line x1="327.49999999999994" y1="353.8" x2="332.7" y2="353.8" stroke="#19e619" stroke-width="1.2"/>
<line x1="336.4" y1="351.8" x2="336.4" y2="359.8" stroke="#19e619" stroke-width="1.2"/>
<line x1="333.79999999999995" y1="351.8" x2="339.0" y2="351.8" stroke="#19e619" stroke-width="1.2"/>
<line x1="333.79999999999995" y1="359.8" x2="339.0" y2="359.8" stroke="#19e619" stroke-width="1.2"/>
<line x1="342.7" y1="357.9" x2="342.7" y2="364.9" stroke="#19e619" stroke-width="1.2"/>
<line x1="340.09999999999997" y1="357.9" x2="345.3" y2="357.9" stroke="#19e619" stroke-width="1.2"/>
<line x1="340.09999999999997" y1="364.9" x2="345.3" y2="364.9" stroke="#19e619" stroke-width="1.2"/>
<line x1="349.0" y1="362.1" x2="349.0" y2="369.1" stroke="#19e619" stroke-width="1.2"/>
<line x1="346.4" y1="362.1" x2="351.6" y2="362.1" stroke="#19e619" stroke-width="1.2"/>
<line x1="346.4" y1="369.1" x2="351.6" y2="369.1" stroke="#19e619" stroke-width="1.2"/>
<line x1="355.29999999999995" y1="365.3" x2="355.29999999999995" y2="372.3" stroke="#19e619" stroke-width="1.2"/>
<line x1="352.69999999999993" y1="365.3" x2="357.9" y2="365.3" stroke="#19e619" stroke-width="1.2"/>
<line x1="352.69999999999993" y1="372.3" x2="357.9" y2="372.3" stroke="#19e619" stroke-width="1.2"/>
<line x1="361.59999999999997" y1="368.2" x2="361.59999999999997" y2="374.2" stroke="#19e619" stroke-width="1.2"/>
<line x1="358.99999999999994" y1="368.2" x2="364.2" y2="368.2" stroke="#19e619" stroke-width="1.2"/>
<line x1="358.99999999999994" y1="374.2" x2="364.2" y2="374.2" stroke="#19e619" stroke-width="1.2"/>
<circle cx="292.30" cy="333.00" r="2.9" fill="#19e619"/>
<circle cx="298.60" cy="322.30" r="2.9" fill="#19e619"/>
<circle cx="304.90" cy="326.80" r="2.9" fill="#19e619"/>
<circle cx="311.20" cy="328.40" r="2.9" fill="#19e619"/>
<circle cx="317.50" cy="336.30" r="2.9" fill="#19e619"/>
<circle cx="323.80" cy="344.00" r="2.9" fill="#19e619"/>
<circle cx="330.10" cy="349.80" r="2.9" fill="#19e619"/>
<circle cx="336.40" cy="355.80" r="2.9" fill="#19e619"/>
<circle cx="342.70" cy="361.40" r="2.9" fill="#19e619"/>
<circle cx="349.00" cy="365.60" r="2.9" fill="#19e619"/>
<circle cx="355.30" cy="368.80" r="2.9" fill="#19e619"/>
<circle cx="361.60" cy="371.20" r="2.9" fill="#19e619"/>
<path d="M366.9,356.5 L368.2,356.5 L368.2,374.5 L366.9,374.5" stroke="#444" stroke-width="0.9" fill="none"/>
<path d="M374.2,356.2 L375.5,356.2 L375.5,371.5 L374.2,371.5 M375.5,363.7 L378.8,363.7" stroke="#444" stroke-width="0.9" fill="none"/>
<circle cx="370.7" cy="363.8" r="0.75" fill="#333"/>
<circle cx="370.7" cy="366.2" r="0.75" fill="#333"/>
<circle cx="370.7" cy="368.6" r="0.75" fill="#333"/>
</svg>
</body></html>
